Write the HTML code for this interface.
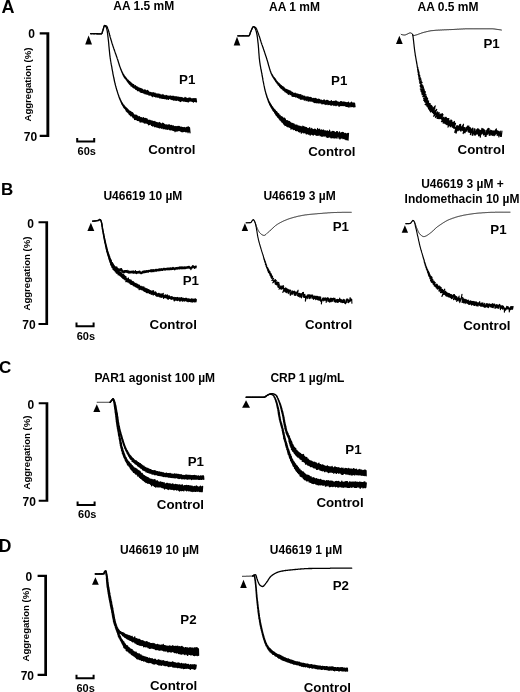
<!DOCTYPE html>
<html lang="en">
<head>
<meta charset="utf-8">
<title>Platelet aggregation traces</title>
<style>
html,body{margin:0;padding:0;background:#fff;}
body{width:520px;height:692px;overflow:hidden;}
svg{display:block;filter:blur(0.3px);}
svg text{font-family:"Liberation Sans",sans-serif;font-weight:bold;fill:#000;}
svg path{fill:none;stroke:#000;stroke-linejoin:round;stroke-linecap:round;}
svg path.f{fill:#000;stroke:none;}
svg path.sb{stroke-width:2;stroke-linejoin:miter;stroke-linecap:butt;}
</style>
</head>
<body>
<svg width="520" height="692" viewBox="0 0 520 692">
<rect x="0" y="0" width="520" height="692" fill="#fff" stroke="none"/>
<text x="1.4" y="12.7" font-size="18" text-anchor="start" >A</text>
<text x="34.9" y="37.6" font-size="12" text-anchor="end" >0</text>
<text x="37.2" y="141.2" font-size="12" text-anchor="end" >70</text>
<path d="M39.7,32.3 H49.3 V136.9 H39.7 V134.80 H46.40 V34.40 H39.7 Z" class="f"/>
<text transform="translate(31.2,84.5) rotate(-90)" font-size="9.6" text-anchor="middle">Aggregation (%)</text>
<path d="M77.2,138 V141.4 H94.2 V138" class="sb"/>
<text x="86.7" y="155.1" font-size="11" text-anchor="middle" >60s</text>
<text x="143.7" y="10.2" font-size="12" text-anchor="middle" >AA 1.5 mM</text>
<path d="M85.2,44.4 L92,44.4 L88.6,35.4 Z" class="f"/>
<path d="M90.6,33.7 91.1,33.7 91.6,33.8 92.1,33.7 92.6,33.7 93.1,33.6 93.6,33.7 94.1,33.7 94.6,33.7 95.1,33.7 95.6,33.7 96.2,33.7 96.8,33.8 97.3,33.7 97.9,33.8 98.5,33.8 99.0,33.9 99.6,33.8 100.0,33.9 100.5,33.8 100.9,33.9 101.2,33.9 101.5,33.9 101.7,33.6 101.9,33.3 102.1,32.7 102.3,32.2 102.5,31.5 102.7,31.0 102.9,30.3 103.0,29.9 103.2,29.3 103.4,28.8 103.6,28.1 103.7,27.6 103.9,26.9 104.0,26.4 104.2,25.9 104.4,25.7 104.6,25.5 104.9,25.6 105.2,25.8 105.5,26.3 105.9,26.7 106.2,27.3 106.4,27.7 106.6,28.3 106.7,28.6 106.8,29.2 106.9,29.6 107.0,30.1 107.1,30.5 107.2,31.1 107.3,31.5 107.4,32.1 107.4,32.6 107.5,33.2 107.6,33.6 107.6,34.2 107.7,34.6 107.8,35.2 107.8,35.6 107.9,36.2 107.9,36.7 108.0,37.2 108.1,37.7 108.1,38.2 108.2,38.7 108.2,39.2 108.3,39.6 108.4,40.2 108.4,40.7 108.5,41.2 108.5,41.6 108.6,42.2 108.6,42.6 108.7,43.2 108.7,43.6 108.8,44.2 108.8,44.6 108.8,45.2 108.9,45.6 108.9,46.2 109.0,46.6 109.0,47.2 109.1,47.6 109.1,48.2 109.2,48.6 109.2,49.2 109.3,49.6 109.3,50.2 109.4,50.6 109.4,51.2 109.5,51.6 109.5,52.2 109.6,52.6 109.6,53.2 109.7,53.7 109.7,54.2 109.8,54.7 109.8,55.2 109.9,55.6 110.0,56.2 110.0,56.6 110.1,57.2 110.2,57.6 110.2,58.2 110.3,58.6 110.4,59.2 110.5,59.6 110.5,60.2 110.6,60.6 110.7,61.2 110.8,61.6 110.9,62.2 111.0,62.6 111.0,63.2 111.1,63.6 111.2,64.2 111.3,64.6 111.4,65.1 111.5,65.6 111.6,66.1 111.7,66.5 111.8,67.1 111.9,67.5 111.9,68.1 112.0,68.5 112.1,69.1 112.2,69.5 112.3,70.1 112.4,70.5 112.5,71.1 112.6,71.5 112.7,72.1 112.8,72.5 112.8,73.1 112.9,73.5 113.0,74.1 113.1,74.5 113.2,75.1 113.3,75.4 113.4,76.1 113.5,76.4 113.6,77.1 113.7,77.4 113.8,78.0 113.9,78.4 114.0,79.0 114.1,79.4 114.2,80.0 114.3,80.3 114.4,81.0 114.5,81.3 114.6,82.0 114.7,82.3 114.9,82.9 115.0,83.2 115.1,84.0 115.2,84.3 115.3,84.9 115.5,85.2 115.6,85.9 115.7,86.2 115.9,86.9 116.0,87.1 116.1,87.9 116.3,88.1 116.4,88.8 116.5,89.0 116.7,89.9 116.8,90.0 117.0,90.8 117.1,91.0 117.3,91.7 117.4,91.9 117.6,92.7 117.7,92.8 117.9,93.7 118.0,93.8 118.2,94.7 118.4,94.7 118.5,95.7 118.7,95.5 118.9,96.7 119.0,96.5 119.2,97.6 119.4,97.5 119.6,98.7 119.8,98.2 120.0,99.6 120.2,99.0 120.4,100.5 120.6,100.0 120.8,101.4 121.0,100.8 121.2,102.5 121.4,101.7 121.7,103.6 121.9,102.5 122.1,104.4 122.4,103.2 122.7,105.4 122.9,104.2 123.2,106.2 123.5,105.0 123.8,107.4 124.1,105.3 124.4,108.2 124.7,106.5 125.1,108.7 125.4,107.1 125.7,109.8 126.0,107.6 126.3,111.0 126.7,108.3 127.0,111.7 127.3,108.9 127.7,112.3 128.1,109.5 128.4,113.0 128.8,110.5 129.2,114.3 129.5,111.0 129.9,114.8 130.3,111.3 130.7,115.8 131.0,111.9 131.4,115.7 131.8,112.5 132.2,116.3 132.6,112.7 133.0,117.6 133.4,113.9 133.8,117.9 134.2,114.8 134.6,119.5 135.0,115.5 135.5,119.5 135.9,114.9 136.3,119.4 136.8,115.7 137.2,120.4 137.7,116.1 138.1,120.5 138.6,116.9 139.1,120.6 139.5,116.7 140.0,121.9 140.5,117.5 141.0,122.0 141.5,117.6 142.0,121.8 142.4,118.1 142.9,122.0 143.4,117.7 143.9,122.6 144.3,118.3 144.8,123.2 145.3,118.4 145.8,122.9 146.2,118.7 146.7,123.1 147.2,119.0 147.7,123.6 148.2,120.4 148.6,124.8 149.1,120.1 149.6,124.5 150.1,120.4 150.5,124.2 151.0,120.9 151.5,125.4 152.0,120.9 152.5,126.0 153.0,121.5 153.4,125.6 153.9,121.5 154.4,126.6 154.9,121.4 155.4,126.5 155.9,122.5 156.3,126.9 156.8,122.3 157.3,127.1 157.8,122.9 158.3,127.4 158.8,122.8 159.3,128.0 159.7,122.5 160.2,127.3 160.7,123.5 161.2,128.3 161.7,123.8 162.2,127.8 162.7,123.1 163.2,128.8 163.7,123.6 164.1,128.3 164.6,124.6 165.1,129.0 165.6,124.9 166.1,129.0 166.6,124.8 167.1,129.3 167.6,125.2 168.1,129.0 168.6,124.9 169.1,129.3 169.6,124.8 170.1,130.0 170.6,125.6 171.0,129.7 171.5,125.4 172.0,129.9 172.5,125.8 173.0,130.4 173.5,125.9 174.0,130.5 174.5,126.6 175.0,131.6 175.5,126.5 176.0,130.9 176.5,126.6 177.0,131.1 177.5,126.5 178.0,130.7 178.5,126.4 179.0,130.5 179.5,126.5 180.0,130.8 180.5,127.1 181.0,131.3 181.5,127.2 182.0,131.8 182.5,127.5 183.0,131.7 183.5,127.7 184.0,131.4 184.5,127.5 185.0,131.3 185.5,127.9 186.0,132.0 186.5,127.3 187.0,131.5 187.5,127.1 188.0,132.6 188.5,126.8 189.0,131.6 189.5,127.7 190.0,132.8" stroke-width="1.25"/>
<path d="M90.6,33.7 91.1,33.7 91.6,33.7 92.1,33.7 92.6,33.7 93.1,33.7 93.6,33.8 94.1,33.7 94.6,33.8 95.1,33.7 95.7,33.7 96.2,33.7 96.8,33.8 97.4,33.7 97.9,33.8 98.5,33.8 99.0,33.9 99.6,33.8 100.1,33.9 100.5,33.8 100.9,33.9 101.2,33.9 101.5,33.9 101.7,33.6 102.0,33.3 102.2,32.7 102.3,32.2 102.5,31.5 102.7,31.0 102.9,30.3 103.0,29.9 103.2,29.3 103.4,28.8 103.5,28.1 103.7,27.5 103.8,26.9 104.0,26.4 104.2,25.9 104.4,25.7 104.6,25.5 105.0,25.6 105.5,25.6 106.1,25.8 106.5,26.0 106.8,26.3 107.0,26.6 107.3,27.2 107.5,27.6 107.7,28.3 107.8,28.7 108.0,29.2 108.2,29.6 108.3,30.1 108.5,30.6 108.6,31.1 108.8,31.5 108.9,32.1 109.0,32.5 109.1,33.1 109.3,33.5 109.4,34.0 109.5,34.4 109.6,35.0 109.8,35.4 109.9,36.0 110.0,36.4 110.2,37.0 110.3,37.4 110.5,37.9 110.6,38.3 110.7,38.9 110.9,39.3 111.0,39.9 111.2,40.3 111.3,40.8 111.5,41.2 111.6,41.8 111.7,42.2 111.9,42.7 112.0,43.2 112.2,43.7 112.3,44.1 112.5,44.7 112.6,45.1 112.8,45.6 113.0,46.0 113.1,46.6 113.3,47.0 113.4,47.5 113.6,47.9 113.8,48.5 113.9,48.9 114.1,49.4 114.3,49.8 114.4,50.4 114.6,50.8 114.8,51.3 114.9,51.7 115.1,52.3 115.3,52.7 115.4,53.3 115.6,53.6 115.8,54.2 115.9,54.6 116.1,55.2 116.3,55.5 116.4,56.1 116.6,56.5 116.8,57.1 116.9,57.4 117.1,58.0 117.2,58.4 117.4,59.0 117.6,59.3 117.7,59.9 117.9,60.2 118.0,60.9 118.2,61.2 118.3,61.9 118.5,62.2 118.6,62.9 118.8,63.1 118.9,63.8 119.1,64.0 119.2,64.8 119.4,65.0 119.5,65.8 119.7,66.0 119.8,66.7 120.0,66.8 120.2,67.7 120.4,67.8 120.5,68.7 120.7,68.7 120.9,69.7 121.1,69.5 121.3,70.6 121.5,70.5 121.7,71.6 121.9,71.4 122.1,72.7 122.3,72.3 122.5,73.4 122.7,73.1 122.9,74.7 123.2,74.0 123.4,75.5 123.7,74.7 123.9,76.7 124.2,75.7 124.5,77.3 124.8,76.3 125.1,78.3 125.4,77.0 125.7,78.9 126.0,77.9 126.3,79.7 126.6,78.5 126.9,80.7 127.2,79.6 127.5,81.5 127.9,80.1 128.2,82.3 128.5,80.5 128.9,83.4 129.2,81.3 129.5,84.1 129.9,81.9 130.2,84.6 130.6,82.5 131.0,85.8 131.3,83.0 131.7,86.1 132.1,83.9 132.5,86.9 132.9,84.4 133.3,87.4 133.7,84.7 134.1,88.2 134.6,86.0 135.0,88.2 135.4,85.7 135.8,89.4 136.3,86.5 136.7,89.6 137.1,86.8 137.6,90.6 138.0,87.4 138.5,90.6 138.9,88.1 139.4,91.0 139.8,88.1 140.3,92.0 140.8,88.6 141.3,92.4 141.7,88.9 142.2,92.4 142.7,89.4 143.1,92.8 143.6,90.3 144.1,93.2 144.6,89.9 145.0,93.8 145.5,90.1 146.0,93.7 146.5,90.9 146.9,94.3 147.4,90.4 147.9,94.1 148.4,91.2 148.8,95.0 149.3,92.1 149.8,95.1 150.3,92.3 150.8,95.2 151.2,92.6 151.7,95.8 152.2,92.8 152.7,96.6 153.2,92.7 153.7,95.8 154.1,93.1 154.6,96.4 155.1,93.1 155.6,96.8 156.1,93.9 156.6,96.9 157.1,94.0 157.6,97.2 158.1,94.0 158.5,97.2 159.0,94.2 159.5,97.9 160.0,94.4 160.5,97.8 161.0,95.1 161.5,98.2 162.0,95.0 162.5,98.4 163.0,94.5 163.5,98.3 164.0,95.4 164.5,98.6 165.0,95.8 165.5,98.7 166.0,95.5 166.5,99.1 167.0,95.5 167.5,99.0 168.0,96.3 168.5,99.3 169.0,96.0 169.5,98.5 170.0,96.1 170.5,99.0 171.0,96.0 171.5,99.5 172.0,96.7 172.5,99.5 172.9,96.2 173.4,100.1 173.9,96.3 174.4,100.0 174.9,96.9 175.4,100.2 175.9,96.6 176.4,100.3 176.9,96.8 177.4,100.0 177.9,97.1 178.4,100.5 178.9,97.1 179.4,100.9 179.9,97.6 180.4,101.5 180.9,97.3 181.4,101.0 181.9,97.6 182.4,100.6 182.9,98.0 183.4,101.2 183.9,98.3 184.4,101.2 185.0,97.4 185.5,101.3 186.0,97.8 186.5,101.5 187.0,98.5 187.5,101.6 188.0,98.5 188.5,101.9 189.0,98.0 189.5,101.1 190.0,97.9 190.5,101.0 191.0,98.6 191.5,101.2 192.0,98.8 192.5,101.5 193.0,98.6 193.5,102.1 194.0,98.6 194.5,101.4 195.0,98.7 195.5,101.6 196.0,98.6 196.5,101.9" stroke-width="1.25"/>
<text x="179.1" y="83.9" font-size="13.3" text-anchor="start" >P1</text>
<text x="148.2" y="154.3" font-size="13.3" text-anchor="start" >Control</text>
<text x="294.5" y="10.6" font-size="12" text-anchor="middle" >AA 1 mM</text>
<path d="M233.7,45.4 L240.3,45.4 L237.0,36.8 Z" class="f"/>
<path d="M237.8,35.8 238.3,35.8 238.8,35.8 239.3,35.7 239.8,35.8 240.3,35.8 240.8,35.8 241.3,35.8 241.8,35.8 242.3,35.7 242.8,35.8 243.3,35.7 243.9,35.8 244.4,35.8 245.0,35.9 245.6,35.8 246.1,35.9 246.7,35.8 247.2,35.9 247.6,35.9 248.1,35.9 248.4,35.9 248.7,35.9 249.0,35.7 249.3,35.5 249.5,35.0 249.7,34.6 249.9,34.0 250.1,33.5 250.3,32.8 250.5,32.3 250.7,31.6 250.9,31.2 251.1,30.7 251.4,30.2 251.6,29.6 251.9,29.1 252.1,28.4 252.4,28.0 252.6,27.4 252.9,27.1 253.1,26.7 253.4,26.7 253.7,26.6 254.0,26.9 254.3,27.1 254.6,27.6 254.9,28.0 255.2,28.7 255.5,29.1 255.7,29.7 255.9,30.1 256.0,30.7 256.1,31.0 256.3,31.6 256.4,32.0 256.5,32.5 256.6,32.9 256.7,33.5 256.8,33.9 256.9,34.5 257.0,34.9 257.1,35.5 257.2,35.9 257.2,36.5 257.3,36.9 257.4,37.5 257.5,38.0 257.5,38.5 257.6,39.0 257.6,39.6 257.7,40.0 257.8,40.6 257.8,41.0 257.9,41.6 257.9,42.0 258.0,42.6 258.1,43.0 258.1,43.6 258.2,44.0 258.2,44.6 258.3,45.0 258.3,45.6 258.4,46.0 258.4,46.6 258.4,47.0 258.5,47.6 258.5,48.0 258.6,48.6 258.6,49.0 258.6,49.6 258.7,50.0 258.7,50.6 258.7,51.0 258.8,51.6 258.8,52.0 258.8,52.6 258.9,53.0 258.9,53.6 259.0,54.0 259.0,54.6 259.0,55.0 259.1,55.6 259.1,56.0 259.2,56.6 259.2,57.0 259.2,57.6 259.3,58.0 259.3,58.6 259.4,59.0 259.5,59.6 259.5,60.0 259.6,60.6 259.6,61.0 259.7,61.6 259.8,62.0 259.8,62.6 259.9,63.0 260.0,63.6 260.1,64.0 260.1,64.6 260.2,65.0 260.3,65.6 260.4,66.0 260.5,66.6 260.6,67.0 260.7,67.6 260.7,67.9 260.8,68.6 260.9,68.9 261.0,69.5 261.1,69.9 261.2,70.5 261.3,70.9 261.4,71.5 261.5,71.9 261.6,72.6 261.7,72.9 261.8,73.5 261.9,73.9 262.0,74.5 262.0,74.8 262.1,75.5 262.2,75.8 262.3,76.5 262.4,76.8 262.5,77.5 262.6,77.8 262.7,78.5 262.8,78.8 262.8,79.5 262.9,79.8 263.0,80.4 263.1,80.7 263.2,81.5 263.3,81.7 263.4,82.5 263.5,82.7 263.6,83.5 263.7,83.7 263.8,84.4 263.9,84.7 264.0,85.4 264.1,85.7 264.2,86.4 264.3,86.6 264.4,87.4 264.5,87.6 264.6,88.5 264.7,88.6 264.8,89.3 264.9,89.6 265.0,90.4 265.2,90.5 265.3,91.4 265.4,91.4 265.6,92.4 265.7,92.4 265.8,93.4 266.0,93.3 266.1,94.5 266.3,94.2 266.4,95.5 266.6,95.1 266.7,96.6 266.9,96.0 267.0,97.5 267.2,97.0 267.4,98.4 267.5,98.1 267.7,99.5 267.9,98.6 268.1,100.5 268.3,99.7 268.4,101.6 268.6,100.5 268.8,102.5 269.0,101.4 269.2,103.3 269.4,102.2 269.7,104.6 269.9,102.9 270.1,105.3 270.4,103.7 270.6,106.1 270.9,104.5 271.1,107.2 271.4,105.2 271.7,108.1 271.9,106.4 272.2,108.8 272.5,106.8 272.8,110.2 273.1,107.8 273.4,111.0 273.7,108.5 274.0,111.4 274.3,109.5 274.6,112.8 274.9,109.8 275.2,113.5 275.5,110.7 275.8,114.7 276.1,111.5 276.4,115.4 276.7,111.7 277.1,116.1 277.4,112.8 277.7,117.1 278.1,113.5 278.4,117.7 278.7,113.8 279.1,118.6 279.4,115.1 279.8,119.8 280.1,115.3 280.5,120.1 280.8,116.9 281.2,121.0 281.6,116.7 281.9,122.0 282.3,117.1 282.7,122.5 283.1,118.1 283.5,123.7 283.9,118.2 284.2,124.4 284.6,118.2 285.0,125.5 285.4,119.2 285.9,125.3 286.3,120.7 286.7,126.1 287.1,120.7 287.5,126.6 287.9,120.8 288.4,126.6 288.8,121.7 289.2,127.2 289.6,121.5 290.1,127.4 290.5,122.5 291.0,129.2 291.4,123.2 291.9,128.3 292.3,123.3 292.8,129.0 293.2,123.7 293.7,129.7 294.2,124.2 294.6,129.4 295.1,125.2 295.6,130.5 296.1,125.0 296.5,130.6 297.0,125.2 297.5,130.5 298.0,126.0 298.4,131.5 298.9,125.9 299.4,132.0 299.9,126.5 300.4,131.6 300.9,126.4 301.3,133.2 301.8,127.2 302.3,132.2 302.8,126.2 303.3,132.8 303.8,126.6 304.3,132.7 304.8,127.2 305.3,132.9 305.8,127.4 306.3,134.0 306.7,127.7 307.2,133.4 307.7,128.6 308.2,134.1 308.7,128.5 309.2,134.2 309.7,127.7 310.2,135.2 310.7,129.1 311.2,134.1 311.7,128.3 312.2,134.4 312.7,129.4 313.2,135.2 313.6,129.6 314.1,134.3 314.6,129.1 315.1,134.3 315.6,129.3 316.1,135.3 316.6,130.4 317.1,135.1 317.6,128.5 318.1,135.4 318.6,129.6 319.1,134.7 319.6,129.1 320.1,135.7 320.6,130.4 321.1,135.8 321.6,129.8 322.1,136.4 322.6,130.4 323.1,135.7 323.6,130.0 324.1,136.3 324.6,130.9 325.1,135.3 325.6,130.8 326.1,136.6 326.6,131.2 327.1,137.3 327.6,130.8 328.1,137.4 328.6,131.7 329.1,136.6 329.6,130.2 330.1,137.1 330.6,132.1 331.1,137.9 331.6,131.8 332.1,137.6 332.6,131.3 333.1,137.7 333.6,131.5 334.1,138.0 334.5,131.8 335.0,137.9 335.5,132.6 336.0,137.6 336.5,131.7 337.0,138.1 337.5,131.7 338.0,136.7 338.5,133.0 339.0,138.1 339.5,131.9 340.0,139.0 340.5,133.2 341.0,138.1 341.5,132.7 342.0,137.9 342.5,132.3 343.0,138.6 343.5,132.6 344.0,138.4 344.5,133.5 345.0,139.1 345.5,133.4 346.0,139.7 346.5,133.9 347.0,139.5 347.5,133.5 348.0,140.2 348.5,133.3" stroke-width="1.25"/>
<path d="M237.8,35.8 238.3,35.8 238.8,35.8 239.3,35.8 239.8,35.8 240.3,35.8 240.8,35.8 241.3,35.8 241.8,35.8 242.3,35.8 242.8,35.8 243.3,35.7 243.9,35.9 244.4,35.8 245.0,35.9 245.6,35.8 246.1,35.9 246.7,35.8 247.2,35.9 247.6,35.8 248.1,35.9 248.4,35.9 248.8,35.9 249.0,35.7 249.3,35.5 249.5,35.0 249.7,34.6 249.9,34.0 250.1,33.4 250.3,32.8 250.5,32.3 250.7,31.6 250.9,31.2 251.2,30.6 251.4,30.2 251.6,29.6 251.8,29.1 252.1,28.4 252.3,27.9 252.5,27.4 252.8,27.1 253.1,26.7 253.4,26.7 253.7,26.6 254.2,26.8 254.7,27.0 255.2,27.4 255.6,27.6 256.0,28.0 256.2,28.3 256.5,28.8 256.7,29.1 256.9,29.7 257.1,30.1 257.3,30.7 257.5,31.1 257.6,31.7 257.8,32.1 258.0,32.6 258.2,33.0 258.3,33.6 258.5,33.9 258.7,34.5 258.8,34.9 259.0,35.5 259.1,35.9 259.3,36.4 259.5,36.8 259.6,37.4 259.8,37.8 259.9,38.3 260.1,38.7 260.2,39.3 260.4,39.7 260.5,40.3 260.7,40.6 260.8,41.2 261.0,41.6 261.1,42.2 261.3,42.6 261.4,43.1 261.6,43.5 261.8,44.1 261.9,44.5 262.1,45.0 262.3,45.4 262.4,46.0 262.6,46.4 262.8,46.9 262.9,47.3 263.1,47.9 263.2,48.3 263.4,48.8 263.6,49.2 263.7,49.8 263.9,50.2 264.1,50.7 264.2,51.1 264.4,51.7 264.5,52.1 264.7,52.6 264.9,53.0 265.0,53.6 265.2,54.0 265.3,54.6 265.5,54.9 265.6,55.5 265.8,55.9 266.0,56.5 266.1,56.8 266.3,57.4 266.4,57.8 266.6,58.4 266.7,58.8 266.9,59.4 267.0,59.7 267.2,60.4 267.3,60.6 267.5,61.3 267.6,61.6 267.8,62.3 267.9,62.6 268.0,63.3 268.2,63.5 268.3,64.3 268.4,64.5 268.6,65.3 268.7,65.4 268.8,66.3 269.0,66.4 269.1,67.3 269.3,67.4 269.4,68.2 269.5,68.4 269.7,69.2 269.8,69.3 270.0,70.1 270.1,70.3 270.3,71.2 270.5,71.1 270.7,72.1 270.8,72.0 271.0,73.1 271.2,73.0 271.4,74.0 271.6,73.9 271.8,75.0 272.1,74.6 272.3,75.9 272.6,75.4 272.8,76.8 273.1,76.3 273.4,77.7 273.6,77.0 273.9,78.6 274.2,77.6 274.5,79.4 274.8,78.4 275.1,80.3 275.4,79.2 275.7,81.3 276.0,80.0 276.3,82.1 276.6,81.0 276.9,83.0 277.2,81.7 277.5,83.7 277.9,82.5 278.2,84.9 278.5,83.1 278.9,85.3 279.2,83.5 279.6,86.3 279.9,84.4 280.3,87.4 280.6,85.1 281.0,88.2 281.3,85.6 281.7,88.7 282.1,86.3 282.5,89.1 282.8,86.9 283.2,90.2 283.6,87.1 284.0,90.5 284.5,88.1 284.9,91.6 285.3,89.0 285.7,92.0 286.2,89.4 286.6,92.6 287.0,89.7 287.5,93.2 287.9,90.2 288.3,94.3 288.8,90.3 289.2,93.6 289.7,90.8 290.1,94.6 290.6,91.2 291.0,94.5 291.5,92.0 291.9,95.9 292.4,92.4 292.8,96.4 293.3,93.2 293.8,96.4 294.2,93.3 294.7,96.4 295.2,93.1 295.6,97.0 296.1,93.9 296.6,96.8 297.0,93.9 297.5,97.5 298.0,94.1 298.5,98.0 298.9,94.7 299.4,98.2 299.9,94.7 300.4,99.2 300.9,94.7 301.3,99.2 301.8,95.8 302.3,99.1 302.8,95.5 303.3,99.2 303.8,96.4 304.3,100.2 304.7,96.1 305.2,99.7 305.7,97.1 306.2,100.7 306.7,96.9 307.2,100.2 307.7,96.9 308.2,101.1 308.6,97.2 309.1,100.9 309.6,97.5 310.1,101.0 310.6,97.3 311.1,101.2 311.6,97.9 312.1,101.2 312.6,98.6 313.1,101.6 313.6,98.4 314.1,102.3 314.5,98.5 315.0,102.7 315.5,98.4 316.0,102.3 316.5,98.9 317.0,103.0 317.5,99.4 318.0,102.7 318.5,99.2 319.0,103.1 319.5,99.4 320.0,102.6 320.5,100.1 321.0,103.1 321.5,100.2 322.0,103.8 322.5,100.6 323.0,103.6 323.5,100.1 324.0,103.7 324.5,100.0 325.0,104.1 325.5,100.9 326.0,104.5 326.5,100.4 327.0,104.0 327.5,100.4 328.0,104.6 328.4,100.8 328.9,104.4 329.4,101.3 329.9,104.5 330.4,101.3 330.9,105.1 331.4,100.6 331.9,105.0 332.4,101.7 332.9,104.6 333.4,101.4 333.9,105.5 334.5,101.4 335.0,105.2 335.5,101.0 336.0,105.6 336.5,101.1 337.0,105.0 337.5,101.8 338.0,105.2 338.5,102.1 339.0,106.3 339.5,102.3 340.0,105.5 340.5,101.7 341.0,105.6 341.5,101.7 342.0,105.4 342.5,102.1 343.0,105.7 343.5,102.0 344.0,105.7 344.5,102.2 345.0,105.7 345.5,102.3 346.0,106.4 346.5,102.6 347.0,106.4 347.5,102.7 348.0,106.7 348.5,102.2 349.0,107.2 349.5,103.2 350.0,106.2 350.5,102.8 351.0,106.8 351.5,102.2 352.0,106.3 352.5,103.0 353.0,106.6 353.5,103.0 354.0,107.0 354.5,103.1 355.0,106.7" stroke-width="1.25"/>
<text x="331.1" y="85.1" font-size="13.3" text-anchor="start" >P1</text>
<text x="308.2" y="156.3" font-size="13.3" text-anchor="start" >Control</text>
<text x="448" y="10.6" font-size="12" text-anchor="middle" >AA 0.5 mM</text>
<path d="M396,44.1 L402.7,44.1 L399.35,35.8 Z" class="f"/>
<path d="M401.2,34.3 401.5,34.5 401.9,34.6 402.2,34.7 402.6,34.8 402.9,34.9 403.3,34.9 403.6,35.0 404.0,35.0 404.3,35.0 404.6,35.0 405.0,34.9 405.3,34.9 405.6,34.8 406.0,34.6 406.3,34.5 406.7,34.3 407.0,34.2 407.3,34.1 407.6,33.9 408.0,33.8 408.3,33.6 408.6,33.4 409.0,33.3 409.3,33.1 409.6,33.0 409.9,32.9 410.3,32.9 410.6,32.9 410.9,33.1 411.3,33.2 411.6,33.4 411.9,33.5 412.2,33.8 412.4,34.1 412.6,34.4 412.7,34.8 412.9,35.2 413.1,35.5 413.3,35.6 413.6,35.6 413.9,35.5 414.2,35.5 414.6,35.4 415.0,35.3 415.3,35.2 415.7,35.1 416.1,35.0 416.4,34.9 416.7,34.8 417.1,34.7 417.4,34.6 417.7,34.5 418.1,34.3 418.4,34.2 418.7,34.1 419.1,34.0 419.4,33.9 419.7,33.7 420.1,33.6 420.4,33.5 420.7,33.4 421.1,33.2 421.4,33.1 421.7,33.0 422.0,32.9 422.4,32.8 422.7,32.7 423.1,32.6 423.4,32.5 423.7,32.4 424.1,32.3 424.4,32.2 424.8,32.1 425.1,32.0 425.4,32.0 425.8,31.9 426.1,31.8 426.5,31.7 426.8,31.6 427.2,31.6 427.5,31.5 427.8,31.4 428.2,31.3 428.5,31.2 428.9,31.2 429.2,31.1 429.6,31.0 429.9,31.0 430.3,30.9 430.6,30.8 431.0,30.8 431.3,30.7 431.7,30.7 432.0,30.6 432.4,30.6 432.7,30.6 433.1,30.5 433.4,30.5 433.8,30.5 434.1,30.4 434.4,30.4 434.8,30.4 435.1,30.3 435.5,30.3 435.8,30.3 436.2,30.3 436.5,30.2 436.9,30.2 437.2,30.2 437.6,30.2 437.9,30.2 438.3,30.1 438.7,30.1 439.0,30.1 439.4,30.1 439.7,30.1 440.1,30.0 440.4,30.0 440.8,30.0 441.1,30.0 441.5,30.0 441.8,30.0 442.2,29.9 442.5,29.9 442.9,29.9 443.2,29.9 443.6,29.9 443.9,29.9 444.3,29.8 444.6,29.8 445.0,29.8 445.3,29.8 445.7,29.8 446.0,29.8 446.4,29.8 446.8,29.7 447.1,29.7 447.5,29.7 447.8,29.7 448.2,29.7 448.5,29.7 448.9,29.7 449.2,29.6 449.6,29.6 449.9,29.6 450.3,29.6 450.6,29.6 451.0,29.6 451.3,29.6 451.7,29.5 452.0,29.5 452.4,29.5 452.7,29.5 453.1,29.5 453.4,29.5 453.8,29.4 454.2,29.4 454.5,29.4 454.9,29.4 455.2,29.4 455.6,29.3 455.9,29.3 456.3,29.3 456.6,29.3 457.0,29.3 457.3,29.2 457.7,29.2 458.0,29.2 458.4,29.2 458.7,29.2 459.1,29.1 459.4,29.1 459.8,29.1 460.1,29.1 460.5,29.1 460.8,29.0 461.2,29.0 461.5,29.0 461.9,29.0 462.2,29.0 462.6,29.0 462.9,28.9 463.3,28.9 463.6,28.9 464.0,28.9 464.4,28.9 464.7,28.9 465.1,28.8 465.4,28.8 465.8,28.8 466.1,28.8 466.5,28.8 466.8,28.8 467.2,28.8 467.5,28.8 467.9,28.8 468.2,28.8 468.6,28.8 468.9,28.8 469.3,28.8 469.6,28.8 470.0,28.8 470.3,28.8 470.7,28.8 471.0,28.8 471.4,28.8 471.7,28.8 472.1,28.8 472.4,28.8 472.8,28.8 473.2,28.8 473.5,28.8 473.9,28.8 474.2,28.8 474.6,28.8 474.9,28.8 475.3,28.8 475.6,28.8 476.0,28.8 476.3,28.8 476.7,28.8 477.0,28.8 477.4,28.8 477.7,28.8 478.1,28.8 478.4,28.8 478.8,28.8 479.1,28.8 479.5,28.8 479.8,28.8 480.2,28.8 480.6,28.8 480.9,28.8 481.3,28.8 481.6,28.8 482.0,28.8 482.3,28.8 482.7,28.8 483.0,28.8 483.4,28.8 483.7,28.8 484.1,28.8 484.4,28.8 484.8,28.8 485.1,28.8 485.5,28.8 485.8,28.8 486.2,28.8 486.5,28.8 486.9,28.8 487.2,28.8 487.6,28.8 487.9,28.8 488.3,28.8 488.6,28.8 489.0,28.8 489.3,28.8 489.7,28.8 490.1,28.8 490.4,28.8 490.8,28.8 491.1,28.8 491.5,28.8 491.8,28.8 492.2,28.8 492.5,28.8 492.9,28.9 493.2,28.9 493.6,28.9 493.9,29.0 494.3,29.0 494.6,29.0 495.0,29.1 495.3,29.1 495.7,29.2 496.0,29.2 496.4,29.3 496.7,29.3 497.1,29.4 497.4,29.4 497.8,29.5 498.1,29.5 498.5,29.6 498.8,29.6 499.2,29.7 499.5,29.7 499.9,29.8 500.2,29.8 500.6,29.9 500.9,29.9 501.3,30.0" stroke-width="1.0"/>
<path d="M412.6,34.3 412.7,34.6 412.7,35.0 412.8,35.4 412.8,35.8 413.0,36.2 413.0,36.6 413.1,37.0 413.1,37.4 413.2,37.7 413.2,38.2 413.3,38.6 413.3,39.0 413.4,39.4 413.4,39.8 413.5,40.2 413.5,40.6 413.6,41.0 413.6,41.4 413.7,41.8 413.7,42.2 413.8,42.6 413.7,43.0 413.9,43.4 413.8,43.8 414.0,44.2 413.9,44.6 414.1,45.0 414.0,45.4 414.1,45.8 414.1,46.2 414.2,46.6 414.2,47.0 414.3,47.3 414.3,47.7 414.4,48.2 414.4,48.6 414.5,49.0 414.5,49.4 414.6,49.8 414.6,50.2 414.7,50.6 414.7,51.0 414.8,51.3 414.8,51.8 414.9,52.1 414.9,52.5 415.1,52.9 415.0,53.3 415.2,53.7 415.1,54.1 415.3,54.5 415.2,55.0 415.4,55.4 415.4,55.7 415.6,56.1 415.5,56.5 415.7,56.9 415.7,57.3 415.8,57.6 415.8,58.1 416.0,58.5 415.9,58.9 416.1,59.3 416.1,59.7 416.2,60.1 416.2,60.5 416.4,60.9 416.3,61.3 416.6,61.6 416.5,62.1 416.7,62.4 416.6,62.9 416.8,63.2 416.7,63.7 417.0,64.0 416.9,64.5 417.1,64.8 417.0,65.2 417.3,65.6 417.1,66.1 417.4,66.5 417.3,66.9 417.7,67.2 417.3,67.6 417.9,67.9 417.6,68.4 418.0,68.8 417.5,69.3 418.3,69.5 417.7,70.1 418.4,70.4 417.9,71.0 418.7,71.2 417.9,71.6 418.8,71.8 418.0,72.3 419.1,72.4 418.3,73.2 419.1,73.6 418.2,74.3 419.3,74.6 418.6,74.9 419.6,75.1 418.5,75.9 419.9,75.8 418.9,76.3 419.8,76.4 418.7,77.2 420.2,77.4 419.0,78.3 420.2,78.3 419.0,78.8 420.9,78.8 419.3,79.6 420.8,79.5 419.2,79.7 421.0,79.3 419.6,80.5 421.4,80.8 419.4,81.8 421.5,82.0 419.9,82.7 421.7,82.7 419.7,83.1 422.2,82.4 420.4,83.8 422.1,84.3 420.2,85.5 422.2,86.0 420.2,86.4 422.3,85.7 420.3,86.3 423.3,86.2 420.8,87.4 423.3,87.6 420.3,89.0 423.2,88.4 420.8,89.2 423.9,88.8 421.5,88.8 423.5,87.5 420.9,89.8 424.4,90.3 421.0,90.8 424.2,89.2 421.2,91.6 425.3,91.6 421.6,93.1 425.4,92.1 422.3,93.6 424.9,93.1 422.1,94.6 425.4,94.0 423.1,95.1 426.0,94.6 422.8,96.6 426.4,96.2 423.5,97.0 426.4,97.0 423.7,100.4 427.0,98.2 423.6,98.6 427.0,97.7 424.1,99.3 427.6,98.3 423.8,100.4 427.6,99.2 424.4,101.0 427.2,100.2 424.7,101.8 427.7,100.6 425.0,102.1 428.7,101.0 426.0,103.0 428.7,102.1 425.1,104.4 428.6,103.1 425.9,105.0 429.2,103.6 426.6,105.1 430.2,103.7 426.9,106.2 430.2,104.7 427.7,106.7 430.9,105.2 428.1,107.5 431.7,105.7 428.4,108.4 432.1,106.7 428.8,109.2 431.7,107.5 429.3,109.4 432.6,107.0 429.5,110.3 433.1,108.6 430.3,111.5 433.3,109.4 430.6,112.0 434.4,109.3 431.3,111.0 435.3,106.0 431.6,110.5 435.1,107.8 432.4,112.5 436.0,110.1 433.1,112.8 435.8,111.2 433.5,113.7 436.7,109.4 433.7,116.3 437.6,111.9 434.9,114.6 437.8,112.2 435.4,117.1 438.7,112.9 435.8,117.5 439.3,112.8 437.1,118.5 439.9,114.7 437.6,118.3 440.4,114.2 438.4,118.4 441.6,114.4 438.9,118.7 442.2,113.6 439.9,118.6 442.1,116.6 440.6,118.4 443.0,114.4 441.4,119.2 443.9,117.2 441.4,121.7 444.8,118.2 442.5,121.6 445.6,117.3 443.0,121.7 446.3,117.5 443.1,123.1 446.7,118.5 444.1,123.1 447.5,118.7 445.2,122.9 448.4,118.7 445.3,123.8 448.9,118.7 446.5,124.4 449.3,120.7 447.3,125.0 450.0,122.2 448.0,127.1 451.0,120.0 448.6,124.7 451.8,120.4 449.6,125.4 451.9,122.1 450.1,126.6 452.7,122.2 450.7,126.6 453.1,122.5 451.4,126.0 454.4,121.5 452.3,127.2 454.9,123.0 453.2,127.4 455.5,123.5 453.9,128.4 456.1,126.9 454.8,132.5 457.1,125.5 455.4,128.2 457.4,126.0 456.0,133.2 458.4,126.2 456.9,129.9 458.9,126.3 458.1,129.1 459.7,124.7 458.2,130.6 460.6,124.4 459.5,129.6 460.9,126.0 460.2,130.7 461.9,126.8 461.0,131.2 462.6,125.6 461.8,129.9 463.5,124.2 462.6,130.4 464.0,127.5 463.2,133.7 464.8,127.7 464.2,132.4 465.8,128.9 465.0,132.9 466.3,127.5 465.9,131.2 467.4,126.1 466.7,131.1 468.0,126.2 467.4,129.7 468.9,126.0 468.2,131.8 469.6,127.5 469.0,132.1 470.4,127.8 469.7,132.4 471.1,129.0 470.4,134.6 472.0,128.8 471.3,132.6 472.8,128.0 472.1,135.0 473.6,132.4 472.8,135.4 474.3,128.9 473.6,133.7 475.0,129.0 474.5,135.0 476.0,131.0 475.3,135.2 476.5,129.9 476.2,133.9 477.5,128.9 477.0,134.2 478.1,128.9 477.9,133.9 478.9,129.4 478.6,135.9 479.6,130.4 479.4,135.6 480.4,130.4 480.3,137.2 481.2,130.5 481.1,134.2 481.9,128.4 481.9,134.0 482.7,128.8 482.8,133.2 483.5,129.1 483.6,134.9 484.3,129.8 484.4,134.3 485.1,130.6 485.2,136.4 485.9,133.1 486.0,136.5 486.7,130.4 486.8,134.6 487.5,129.2 487.6,134.1 488.3,128.4 488.4,133.2 489.1,128.6 489.2,135.2 489.9,131.3 490.0,135.4 490.7,130.2 490.9,134.1 491.5,130.5 491.7,134.9 492.3,130.8 492.4,135.3 493.1,131.1 493.3,135.1 493.9,130.9 494.1,135.6 494.7,131.1 494.8,135.1 495.5,129.9 495.6,134.1 496.3,128.8 496.5,133.4 497.1,130.9 497.2,135.4 497.9,130.9 498.0,135.2 498.7,131.6 498.9,136.9 499.5,132.0 499.7,135.1 500.3,131.0 500.5,136.3 501.1,134.1 501.3,136.4 501.9,131.1" stroke-width="1.2"/>
<text x="483.5" y="47.5" font-size="13.3" text-anchor="start" >P1</text>
<text x="457.6" y="154.3" font-size="13.3" text-anchor="start" >Control</text>
<text x="1.0" y="194.6" font-size="17" text-anchor="start" >B</text>
<text x="34" y="227.6" font-size="12" text-anchor="end" >0</text>
<text x="35.6" y="329.4" font-size="12" text-anchor="end" >70</text>
<path d="M38.5,221.2 H48.1 V325 H38.5 V322.90 H45.40 V223.30 H38.5 Z" class="f"/>
<text transform="translate(30,273.5) rotate(-90)" font-size="9.6" text-anchor="middle">Aggregation (%)</text>
<path d="M76.5,322.6 V326.2 H93.6 V322.6" class="sb"/>
<text x="85.9" y="339.8" font-size="11" text-anchor="middle" >60s</text>
<text x="142.9" y="200.2" font-size="12" text-anchor="middle" >U46619 10 µM</text>
<path d="M87.4,231 L94.3,231 L90.85,222.8 Z" class="f"/>
<path d="M92.7,221.2 93.0,221.1 93.4,221.2 93.7,221.1 94.1,221.1 94.4,221.0 94.8,221.0 95.1,220.9 95.5,221.0 95.8,220.8 96.2,220.8 96.5,220.7 96.9,220.7 97.3,220.6 97.6,220.6 98.0,220.5 98.3,220.5 98.6,220.3 98.9,220.2 99.1,219.8 99.5,219.6 99.7,219.4 100.0,219.5 100.3,219.6 100.5,220.0 100.8,220.3 100.8,220.6 101.0,220.9 101.1,221.2 101.3,221.5 101.3,221.8 101.5,222.1 101.4,222.5 101.6,222.7 101.6,223.1 101.8,223.4 101.7,223.8 101.9,224.1 101.8,224.5 102.0,224.9 101.9,225.2 102.1,225.6 102.0,226.0 102.3,226.3 102.1,226.7 102.3,227.0 102.3,227.4 102.4,227.8 102.3,228.2 102.6,228.5 102.4,228.9 102.6,229.3 102.5,229.6 102.9,229.9 102.7,230.3 102.9,230.6 102.8,231.0 103.1,231.3 103.0,231.7 103.2,232.0 103.1,232.4 103.4,232.6 103.1,233.0 103.5,233.3 103.3,233.8 103.6,234.1 103.4,234.5 103.8,234.8 103.5,235.3 103.9,235.8 103.7,236.0 104.0,236.1 103.8,236.5 104.2,236.8 103.9,237.2 104.3,237.5 104.1,237.9 104.4,238.2 104.2,238.6 104.6,238.9 104.3,239.3 104.7,239.6 104.3,240.0 104.8,240.3 104.6,240.7 105.0,241.0 104.7,241.4 105.2,241.7 104.8,242.1 105.2,242.4 104.9,242.8 105.4,243.0 105.1,243.3 105.6,243.7 105.3,244.1 105.7,244.4 105.5,244.8 105.9,245.1 105.5,245.5 106.0,245.8 105.7,246.2 106.3,246.4 105.8,246.9 106.5,247.1 106.1,247.6 106.5,247.8 106.2,248.3 106.8,248.5 106.3,249.0 107.0,249.2 106.5,249.5 107.2,249.6 106.7,250.2 107.4,250.7 106.8,251.4 107.5,251.4 107.1,251.7 107.7,251.9 107.3,252.6 108.0,253.1 107.4,253.3 108.2,253.2 107.7,253.7 108.3,253.9 107.8,254.4 108.7,254.7 108.0,255.6 108.7,255.5 108.2,255.8 109.1,255.9 108.5,256.3 109.3,256.3 108.8,256.9 109.6,257.0 108.9,257.7 109.8,257.8 109.2,258.4 110.1,258.5 109.4,259.1 110.3,259.1 109.6,259.8 110.8,259.7 109.8,260.5 110.8,260.5 110.1,261.1 111.2,260.9 110.1,261.9 111.4,261.8 110.6,262.6 111.8,262.4 110.8,263.3 112.4,262.9 111.2,263.9 112.6,263.3 111.6,264.1 113.0,263.9 111.9,265.2 113.4,264.5 112.1,265.9 113.7,265.1 112.5,266.5 114.1,265.5 113.2,266.8 114.5,266.1 113.4,267.7 115.0,266.6 114.2,268.0 115.5,267.0 114.8,269.2 116.1,269.0 115.3,269.5 116.8,267.0 116.1,269.0 117.3,268.0 116.8,269.7 117.8,268.5 117.4,270.1 118.1,269.1 118.1,270.2 118.9,269.0 118.7,270.5 119.5,269.2 119.3,270.9 120.2,269.2 120.0,271.3 120.9,268.7 120.7,269.7 121.5,268.8 121.5,271.2 122.3,270.0 122.3,272.1 122.9,270.5 122.9,272.5 123.5,271.8 123.6,272.6 124.3,270.7 124.4,272.7 125.0,270.7 125.1,272.1 125.6,270.7 125.8,272.1 126.3,270.7 126.5,272.2 127.1,270.4 127.1,272.4 127.7,271.1 127.8,272.6 128.4,270.9 128.5,272.9 129.1,271.9 129.2,273.1 129.8,271.2 130.0,272.8 130.5,271.9 130.7,272.8 131.2,271.1 131.4,272.6 131.9,271.8 132.1,273.0 132.6,271.2 132.8,272.0 133.3,271.0 133.5,273.2 134.0,271.5 134.2,273.1 134.7,271.6 134.9,272.9 135.4,270.7 135.6,273.2 136.1,271.7 136.4,273.5 136.8,271.6 137.1,273.1 137.4,271.7 137.8,273.0 138.1,271.7 138.5,272.9 138.8,271.5 139.2,273.2 139.5,271.2 139.9,272.9 140.1,271.4 140.7,273.7 140.8,272.4 141.4,273.6 141.5,272.5 142.1,273.4 142.2,271.3 142.8,272.6 142.9,271.4 143.5,272.8 143.6,271.1 144.2,272.7 144.3,270.8 144.9,272.7 145.0,271.1 145.6,272.4 145.7,271.0 146.3,272.3 146.4,270.6 146.9,271.9 147.1,270.8 147.7,272.2 147.8,270.6 148.4,272.1 148.5,270.5 149.0,271.7 149.2,270.5 149.7,271.4 149.9,270.3 150.4,271.6 150.6,270.0 151.2,271.7 151.3,270.0 151.9,271.8 152.0,269.7 152.6,271.5 152.7,270.0 153.3,271.5 153.4,269.7 154.0,271.6 154.1,269.8 154.6,271.0 154.8,269.8 155.3,271.1 155.5,269.5 156.1,271.2 156.2,269.3 156.8,271.2 156.9,269.5 157.4,270.7 157.6,269.4 158.1,270.6 158.3,269.3 158.8,270.8 159.0,268.9 159.5,270.7 159.7,269.0 160.2,270.7 160.4,269.1 160.9,270.0 161.1,268.6 161.6,270.3 161.8,268.8 162.3,270.4 162.5,269.1 163.0,270.2 163.2,268.5 163.7,269.7 163.9,268.5 164.4,270.0 164.6,268.3 165.1,269.8 165.3,268.7 165.8,270.0 166.0,268.4 166.5,269.7 166.7,268.5 167.2,269.6 167.4,268.2 167.9,269.8 168.1,268.1 168.6,269.6 168.8,268.1 169.3,269.5 169.5,268.1 170.0,269.8 170.2,267.9 170.7,269.3 170.9,267.9 171.4,269.7 171.6,268.2 172.1,269.2 172.3,267.9 172.8,269.4 173.0,267.5 173.5,269.2 173.7,267.9 174.2,269.5 174.4,268.6 174.9,269.7 175.1,267.6 175.6,269.2 175.9,267.8 176.3,269.2 176.5,267.6 177.0,268.9 177.2,267.4 177.7,269.1 178.0,267.8 178.4,268.7 178.6,267.4 179.1,268.8 179.3,267.2 179.8,268.8 180.0,266.9 180.5,268.5 180.7,267.1 181.2,268.7 181.4,267.0 181.9,268.8 182.2,267.1 182.6,268.7 182.9,267.0 183.3,268.5 183.6,267.3 184.0,268.7 184.2,266.8 184.7,268.7 185.0,266.9 185.4,268.5 185.7,267.2 186.1,268.0 186.4,266.8 186.8,268.3 187.1,266.9 187.5,268.2 187.8,266.7 188.2,267.8 188.5,266.4 188.9,268.1 189.2,266.4 189.6,268.1 189.9,266.8 190.3,268.7 190.6,267.6 191.0,269.5 191.3,267.4 191.7,268.2 192.0,266.4 192.4,267.8 192.7,265.7 193.1,266.6 193.4,265.9 193.8,267.7 194.1,266.4 194.5,268.3 194.8,266.7 195.2,267.7 195.5,266.2 195.9,267.8 196.2,266.2" stroke-width="1.3"/>
<path d="M92.7,221.2 93.0,221.1 93.4,221.1 93.7,221.0 94.1,221.1 94.4,221.0 94.8,221.0 95.1,220.9 95.5,220.9 95.8,220.8 96.2,220.8 96.5,220.7 96.9,220.7 97.3,220.6 97.6,220.6 98.0,220.5 98.3,220.5 98.6,220.3 98.9,220.2 99.1,219.8 99.5,219.6 99.7,219.4 100.0,219.5 100.3,219.6 100.5,220.0 100.8,220.3 100.8,220.6 101.0,220.8 101.1,221.2 101.3,221.4 101.3,221.8 101.5,222.1 101.4,222.5 101.6,222.8 101.6,223.1 101.8,223.4 101.7,223.8 101.9,224.1 101.8,224.5 102.1,224.8 101.9,225.2 102.2,225.5 102.1,225.9 102.3,226.3 102.2,226.7 102.4,227.0 102.3,227.4 102.5,227.7 102.4,228.1 102.6,228.5 102.5,228.9 102.7,229.2 102.6,229.6 102.9,229.9 102.7,230.3 103.0,230.6 102.8,231.0 103.1,231.2 103.0,231.5 103.3,231.9 103.1,232.4 103.4,232.7 103.2,233.0 103.6,233.3 103.4,233.7 103.7,234.0 103.5,234.4 103.8,234.7 103.6,235.1 104.0,235.4 103.8,235.8 104.1,236.1 103.8,236.5 104.3,236.8 104.0,237.2 104.4,237.5 104.2,237.9 104.5,238.2 104.3,238.6 104.7,238.9 104.4,239.3 104.8,239.6 104.6,240.0 104.9,240.2 104.7,240.7 105.1,240.9 104.8,241.3 105.3,241.6 104.9,242.0 105.5,242.3 105.1,242.8 105.6,243.1 105.3,243.4 105.7,243.7 105.5,244.1 105.9,244.3 105.6,244.8 106.1,245.0 105.7,245.5 106.2,245.7 105.9,246.1 106.4,246.4 106.1,246.8 106.6,246.9 106.2,247.2 106.8,247.7 106.3,248.4 106.8,248.5 106.5,248.9 107.1,249.1 106.6,249.6 107.2,249.8 106.8,250.3 107.5,250.5 107.0,251.1 107.7,251.6 107.1,252.0 107.9,251.9 107.4,252.3 108.1,252.5 107.5,253.0 108.3,253.1 107.7,253.7 108.6,253.8 107.8,254.4 108.7,254.5 108.2,255.0 109.0,255.1 108.2,255.7 109.1,255.8 108.5,256.4 109.6,256.4 108.7,257.1 109.4,257.2 108.8,257.8 109.9,257.8 109.0,258.5 110.0,258.5 109.1,259.2 110.4,259.1 109.5,259.8 110.7,259.7 109.5,260.5 110.9,260.4 109.7,261.0 111.3,260.6 110.1,261.6 111.4,261.7 110.3,262.6 111.8,262.3 110.7,263.1 112.2,262.9 110.6,264.0 112.2,263.7 110.8,264.7 112.9,264.1 111.2,265.3 113.0,264.8 111.7,265.9 113.5,265.3 111.9,267.0 113.9,266.8 112.3,267.6 114.1,266.5 112.5,267.9 114.5,266.9 113.2,268.3 115.0,267.4 113.1,269.3 115.4,267.9 113.7,269.8 115.7,268.5 114.3,270.3 116.3,269.0 115.0,270.6 116.8,269.4 115.2,271.6 117.3,270.1 115.8,272.1 118.2,270.0 116.5,272.2 118.2,271.0 116.5,273.2 119.0,271.1 117.5,273.2 119.0,272.1 117.9,273.8 119.6,272.5 118.1,274.8 120.5,272.4 118.7,274.7 121.1,272.7 119.6,275.2 121.8,273.1 120.1,275.7 121.9,274.1 120.6,276.2 122.3,274.6 121.4,276.2 123.3,274.3 121.6,277.2 123.9,274.9 122.6,277.1 124.2,275.7 122.7,278.2 124.8,276.0 123.4,278.4 125.3,276.5 123.9,278.9 125.9,276.8 124.5,279.3 126.1,277.7 125.0,279.8 126.8,278.8 125.8,281.6 127.5,279.0 126.1,280.7 128.4,278.1 126.7,281.1 128.5,279.3 127.1,281.8 128.9,279.8 127.9,281.9 129.9,279.6 128.7,281.9 130.3,280.4 129.0,282.8 131.1,280.3 129.8,283.0 131.4,281.1 130.2,283.6 131.9,281.7 130.7,284.2 132.9,281.5 131.5,284.3 133.5,281.9 132.2,284.5 133.9,282.5 132.9,284.6 134.4,282.9 133.3,285.5 134.9,283.6 134.0,285.9 135.8,283.4 134.6,286.0 136.2,283.8 135.2,286.3 136.8,284.3 135.8,286.8 137.5,284.4 136.4,287.0 137.9,284.8 137.0,287.5 138.6,285.2 137.7,287.8 139.4,285.2 138.4,288.0 140.0,286.3 139.1,289.7 140.7,286.5 139.7,288.6 141.2,286.4 140.2,289.1 141.6,287.0 140.9,289.3 142.5,286.9 141.5,289.7 143.2,287.0 142.2,289.9 143.9,287.1 143.1,289.8 144.3,288.1 143.5,290.6 145.0,288.1 144.0,291.0 145.5,288.7 144.7,291.3 146.2,288.8 145.3,291.7 146.9,288.9 146.0,291.8 147.5,289.3 146.5,292.5 148.1,289.6 147.3,292.7 148.9,289.8 148.0,292.6 149.4,290.2 148.7,292.7 150.0,290.7 149.4,293.4 150.7,290.8 149.9,293.5 151.2,291.2 150.9,293.2 152.1,291.2 151.2,294.4 152.6,291.0 151.8,293.7 153.5,290.8 152.7,294.4 153.9,292.0 153.2,295.0 154.4,292.5 154.1,294.3 155.3,291.9 154.7,294.4 155.9,292.2 155.5,295.0 156.4,293.2 156.1,295.7 157.1,294.1 156.9,296.3 157.9,293.6 157.3,296.3 158.5,293.4 158.2,295.8 159.2,293.5 158.8,296.3 159.7,294.2 159.4,296.8 160.5,294.2 160.2,296.6 161.2,294.0 160.8,297.2 161.9,294.1 161.5,297.3 162.6,294.5 162.2,296.6 163.2,293.4 162.9,297.1 163.8,295.5 163.6,298.4 164.5,295.9 164.4,297.2 165.2,294.9 165.0,297.5 165.9,295.3 165.8,297.7 166.6,295.3 166.4,297.8 167.3,294.9 167.0,298.2 168.0,295.5 167.7,298.9 168.6,296.3 168.3,299.2 169.4,295.9 169.2,298.4 170.0,296.5 169.9,298.4 170.6,297.0 170.6,298.8 171.4,296.7 171.2,299.2 172.0,296.8 171.9,299.3 172.7,297.2 172.7,298.9 173.3,297.5 173.4,299.0 174.1,297.4 174.1,300.7 174.9,297.8 174.6,300.8 175.5,297.7 175.5,300.0 176.2,297.9 176.1,299.9 176.9,297.7 176.8,300.3 177.6,297.5 177.5,300.5 178.2,297.8 178.2,300.2 178.9,298.2 179.0,300.2 179.6,297.9 179.7,301.1 180.3,299.2 180.4,300.9 181.0,297.6 181.0,299.1 181.6,297.9 181.8,300.5 182.4,298.3 182.4,301.2 183.1,298.2 183.2,300.8 183.7,298.7 183.9,300.6 184.5,298.6 184.5,301.1 185.2,298.5 185.3,300.6 185.9,298.3 186.0,300.7 186.6,298.3 186.7,301.1 187.2,298.9 187.3,301.5 187.9,299.1 188.1,300.9 188.6,298.8 188.7,301.7 189.3,299.2 189.5,301.4 190.0,299.4 190.2,301.5 190.7,299.4 190.9,301.7 191.4,298.9 191.6,301.8 192.1,299.1 192.3,302.0 192.8,299.2 193.0,301.6 193.5,299.4 193.7,301.6 194.2,299.1 194.4,301.8 194.9,299.2 195.1,301.6 195.6,299.0 195.9,301.8 196.3,299.7" stroke-width="1.3"/>
<text x="182.7" y="285.1" font-size="13.3" text-anchor="start" >P1</text>
<text x="149.6" y="328.7" font-size="13.3" text-anchor="start" >Control</text>
<text x="299.6" y="200.2" font-size="12" text-anchor="middle" >U46619 3 µM</text>
<path d="M241.7,231 L248.1,231 L244.89999999999998,223.3 Z" class="f"/>
<path d="M246.2,222.8 246.6,222.8 246.9,222.8 247.3,222.8 247.6,222.7 248.0,222.7 248.3,222.7 248.7,222.7 249.0,222.7 249.4,222.7 249.8,222.7 250.1,222.6 250.5,222.6 250.7,222.6 251.0,222.5 251.2,222.2 251.4,221.9 251.6,221.6 251.8,221.2 252.0,220.9 252.3,220.6 252.5,220.3 252.8,220.0 253.1,219.8 253.3,219.7 253.6,219.8 253.8,220.0 254.1,220.3 254.3,220.7 254.5,221.0 254.7,221.3 254.8,221.6 255.0,221.9 255.1,222.2 255.2,222.6 255.3,222.9 255.4,223.2 255.6,223.6 255.7,223.9 255.8,224.2 255.9,224.6 256.0,224.9 256.1,225.3 256.2,225.6 256.3,226.0 256.4,226.3 256.5,226.6 256.7,226.9 256.8,227.3 257.0,227.6 257.1,227.9 257.2,228.3 257.4,228.6 257.5,228.9 257.7,229.3 257.8,229.6 258.0,229.9 258.2,230.3 258.3,230.6 258.5,230.9 258.7,231.2 258.9,231.5 259.0,231.8 259.2,232.1 259.4,232.3 259.6,232.6 259.8,232.8 260.1,233.1 260.3,233.3 260.6,233.6 260.8,233.8 261.1,234.0 261.4,234.3 261.8,234.5 262.1,234.7 262.4,234.9 262.7,235.1 263.1,235.2 263.4,235.3 263.7,235.4 264.0,235.4 264.3,235.4 264.6,235.3 264.8,235.2 265.1,235.0 265.4,234.8 265.7,234.6 266.0,234.4 266.3,234.1 266.5,233.9 266.8,233.6 267.1,233.3 267.4,233.0 267.6,232.8 267.9,232.5 268.2,232.2 268.5,232.0 268.7,231.8 269.0,231.5 269.3,231.3 269.6,231.1 269.8,230.9 270.1,230.6 270.4,230.4 270.6,230.1 270.9,229.9 271.1,229.7 271.4,229.4 271.7,229.2 271.9,228.9 272.2,228.7 272.4,228.4 272.7,228.2 272.9,227.9 273.2,227.7 273.5,227.5 273.7,227.2 274.0,227.0 274.2,226.8 274.5,226.5 274.8,226.3 275.0,226.1 275.3,225.8 275.6,225.6 275.9,225.4 276.1,225.2 276.4,225.0 276.7,224.8 277.0,224.6 277.3,224.4 277.5,224.2 277.8,224.0 278.1,223.9 278.4,223.7 278.7,223.5 279.0,223.3 279.3,223.2 279.6,223.0 279.9,222.8 280.2,222.7 280.5,222.5 280.9,222.3 281.2,222.2 281.5,222.0 281.8,221.8 282.1,221.7 282.4,221.5 282.8,221.4 283.1,221.2 283.4,221.1 283.7,220.9 284.1,220.8 284.4,220.6 284.7,220.5 285.0,220.3 285.4,220.2 285.7,220.1 286.0,219.9 286.3,219.8 286.7,219.7 287.0,219.5 287.3,219.4 287.7,219.3 288.0,219.2 288.3,219.1 288.7,218.9 289.0,218.8 289.3,218.7 289.7,218.6 290.0,218.5 290.3,218.4 290.6,218.3 291.0,218.2 291.3,218.1 291.6,218.0 292.0,217.9 292.3,217.8 292.6,217.7 293.0,217.6 293.3,217.5 293.7,217.4 294.0,217.3 294.3,217.2 294.7,217.1 295.0,217.0 295.4,217.0 295.7,216.9 296.0,216.8 296.4,216.7 296.7,216.6 297.1,216.5 297.4,216.4 297.8,216.4 298.1,216.3 298.4,216.2 298.8,216.1 299.1,216.1 299.5,216.0 299.8,215.9 300.2,215.8 300.5,215.8 300.9,215.7 301.2,215.6 301.6,215.6 301.9,215.5 302.3,215.4 302.6,215.4 302.9,215.3 303.3,215.3 303.6,215.2 304.0,215.1 304.3,215.1 304.7,215.0 305.0,215.0 305.4,214.9 305.7,214.9 306.1,214.9 306.4,214.8 306.8,214.8 307.1,214.7 307.4,214.7 307.8,214.6 308.1,214.6 308.5,214.6 308.8,214.5 309.2,214.5 309.5,214.4 309.9,214.4 310.2,214.4 310.6,214.3 310.9,214.3 311.3,214.3 311.6,214.2 312.0,214.2 312.3,214.2 312.7,214.1 313.0,214.1 313.4,214.1 313.7,214.0 314.1,214.0 314.4,214.0 314.8,213.9 315.1,213.9 315.5,213.9 315.8,213.8 316.2,213.8 316.5,213.8 316.9,213.8 317.2,213.7 317.6,213.7 317.9,213.7 318.3,213.6 318.6,213.6 319.0,213.6 319.3,213.6 319.7,213.5 320.0,213.5 320.4,213.5 320.7,213.4 321.1,213.4 321.4,213.4 321.8,213.4 322.1,213.3 322.5,213.3 322.8,213.3 323.2,213.2 323.5,213.2 323.9,213.2 324.2,213.2 324.6,213.1 324.9,213.1 325.3,213.1 325.6,213.0 326.0,213.0 326.3,213.0 326.7,213.0 327.0,212.9 327.4,212.9 327.7,212.9 328.1,212.9 328.4,212.8 328.8,212.8 329.1,212.8 329.5,212.8 329.8,212.7 330.2,212.7 330.5,212.7 330.9,212.7 331.2,212.7 331.6,212.6 331.9,212.6 332.3,212.6 332.7,212.6 333.0,212.6 333.4,212.6 333.7,212.5 334.1,212.5 334.4,212.5 334.8,212.5 335.1,212.5 335.5,212.5 335.8,212.5 336.2,212.5 336.5,212.5 336.9,212.5 337.2,212.4 337.6,212.4 337.9,212.4 338.3,212.4 338.6,212.4 339.0,212.4 339.3,212.4 339.7,212.4 340.0,212.4 340.4,212.4 340.7,212.4 341.1,212.4 341.4,212.4 341.8,212.3 342.1,212.3 342.5,212.3 342.8,212.3 343.2,212.3 343.5,212.3 343.9,212.3 344.2,212.3 344.6,212.3 344.9,212.3 345.3,212.3 345.6,212.3 346.0,212.3 346.3,212.3 346.7,212.3 347.0,212.3 347.4,212.3 347.7,212.3 348.1,212.3 348.4,212.3 348.8,212.3 349.1,212.3 349.5,212.3 349.8,212.3 350.2,212.3 350.5,212.3 350.9,212.3 351.2,212.3" stroke-width="0.9"/>
<path d="M246.2,222.8 246.6,222.8 247.0,222.8 247.4,222.8 247.8,222.8 248.2,222.7 248.6,222.7 249.0,222.6 249.5,222.7 249.9,222.6 250.3,222.7 250.6,222.6 250.9,222.5 251.1,222.2 251.5,221.9 251.6,221.5 251.9,221.1 252.1,220.7 252.4,220.4 252.7,220.0 253.0,219.8 253.3,219.6 253.6,219.8 253.9,220.1 254.1,220.5 254.4,220.9 254.5,221.3 254.7,221.6 254.8,222.0 255.0,222.4 255.1,222.8 255.3,223.1 255.3,223.6 255.5,223.9 255.5,224.3 255.6,224.7 255.7,225.1 255.9,225.5 255.9,225.9 256.0,226.3 256.0,226.7 256.2,227.0 256.2,227.4 256.4,227.9 256.3,228.3 256.5,228.7 256.5,229.1 256.6,229.4 256.6,229.9 256.8,230.2 256.7,230.6 256.9,231.0 256.9,231.4 257.0,231.8 257.0,232.2 257.2,232.6 257.1,233.0 257.3,233.4 257.3,233.8 257.4,234.2 257.4,234.6 257.5,235.0 257.5,235.4 257.7,235.8 257.7,236.2 257.8,236.6 257.8,237.0 258.0,237.4 258.0,237.8 258.2,238.2 258.2,238.6 258.3,238.9 258.3,239.3 258.5,239.7 258.5,240.1 258.7,240.5 258.7,240.9 258.9,241.2 258.9,241.6 259.1,242.0 259.1,242.4 259.3,242.8 259.4,243.2 259.5,243.6 259.6,244.0 259.8,244.4 259.8,244.8 260.0,245.2 260.0,245.6 260.2,245.9 260.2,246.3 260.4,246.7 260.5,247.1 260.7,247.4 260.7,247.9 260.9,248.2 260.9,248.6 261.1,249.0 261.2,249.4 261.4,249.8 261.4,250.2 261.6,250.5 261.6,250.9 261.8,251.3 261.9,251.7 262.1,252.1 262.1,252.5 262.3,252.8 262.3,253.2 262.5,253.5 262.6,254.0 262.8,254.3 262.8,254.6 263.1,255.0 263.0,255.6 263.4,255.9 263.2,256.3 263.5,256.5 263.4,257.1 263.8,257.4 263.6,257.9 264.1,258.2 263.8,258.8 264.4,259.2 264.1,259.6 264.6,259.7 264.3,260.2 264.9,260.5 264.5,261.1 265.1,261.3 264.8,261.7 265.5,261.9 265.0,262.5 265.7,262.7 265.3,263.4 266.0,263.7 265.4,264.4 266.3,264.1 265.6,264.8 266.5,265.0 266.0,265.7 266.8,265.7 266.2,266.6 267.1,267.3 266.6,267.5 267.4,267.2 266.8,267.9 267.8,267.9 267.1,268.6 268.2,268.6 267.4,269.4 268.6,269.3 267.6,270.2 269.0,270.0 267.9,270.9 269.2,270.8 268.3,271.6 269.7,271.4 268.4,272.5 270.3,272.0 269.1,273.0 270.2,273.0 269.4,273.8 270.9,273.5 269.9,274.4 271.2,273.9 269.9,275.3 271.5,274.6 270.4,275.4 271.9,275.2 270.7,276.6 272.5,276.4 271.1,277.7 272.7,277.0 271.7,278.4 273.3,278.7 271.8,280.5 273.6,278.4 272.5,280.4 274.5,281.6 272.7,282.8 274.9,279.9 273.3,281.0 275.6,279.7 274.0,281.6 275.8,280.4 274.2,281.9 276.5,280.7 275.0,283.3 277.2,282.4 275.3,284.2 277.6,282.1 275.8,284.4 278.2,282.6 276.5,284.6 278.9,282.3 277.1,285.2 279.3,283.9 277.8,286.6 279.6,285.0 278.2,287.4 280.5,286.6 279.0,289.3 281.0,285.9 279.7,288.6 281.7,287.9 280.6,288.8 282.3,286.1 280.9,288.7 283.4,285.6 281.5,289.3 283.7,286.7 282.9,288.8 284.2,288.4 282.8,292.4 284.9,288.6 283.5,290.9 285.7,287.9 284.3,291.3 286.5,288.4 285.3,291.9 286.8,289.4 285.8,292.1 287.7,289.0 286.7,292.8 288.4,290.6 287.5,291.5 288.9,289.5 288.3,293.6 289.8,290.3 288.9,292.3 290.5,290.1 289.9,294.1 291.1,293.5 290.3,295.4 292.0,290.8 291.4,293.6 292.7,291.2 292.0,294.6 293.5,291.4 293.0,294.0 294.2,291.1 293.9,292.6 294.8,291.7 294.3,295.2 295.7,292.0 295.1,295.4 296.5,292.2 296.0,295.4 297.1,291.8 296.7,292.8 298.1,290.2 297.5,295.7 298.6,293.5 298.2,296.5 299.5,293.3 299.2,296.2 300.2,293.8 299.8,297.1 301.1,293.5 300.7,297.0 301.8,294.0 301.4,298.0 302.6,292.5 302.4,293.3 303.5,292.3 303.1,297.0 304.1,294.4 303.9,297.5 304.9,294.3 304.7,297.5 305.7,296.1 305.4,301.1 306.5,296.2 306.3,297.8 307.2,295.1 307.1,298.0 308.1,294.7 307.8,298.7 308.8,294.8 308.6,296.8 309.6,294.7 309.4,298.7 310.5,295.1 310.3,298.3 311.2,295.0 311.1,296.7 312.0,295.0 311.9,298.2 312.7,295.0 312.7,298.2 313.5,296.3 313.4,299.4 314.4,296.0 314.4,298.4 315.1,296.2 315.1,299.0 316.0,296.1 315.8,299.7 316.7,296.5 316.7,299.3 317.6,296.3 317.5,299.6 318.3,296.7 318.2,300.0 319.1,296.8 319.0,300.1 319.9,296.8 319.8,300.2 320.7,297.0 320.6,301.3 321.5,300.2 321.4,303.9 322.2,298.8 322.2,300.7 323.0,297.8 323.1,300.3 323.8,298.0 323.8,300.9 324.6,298.0 324.7,300.2 325.4,297.9 325.5,300.3 326.2,298.2 326.2,302.4 327.0,298.0 327.0,299.6 327.8,297.6 327.8,301.2 328.6,298.4 328.7,301.4 329.3,299.4 329.4,302.2 330.2,298.4 330.2,301.5 331.0,298.1 331.0,301.9 331.7,298.6 331.8,301.3 332.6,298.5 332.7,301.3 333.3,298.1 333.5,299.4 334.1,298.3 334.3,301.8 335.0,298.4 335.1,301.6 335.7,299.9 335.9,302.4 336.5,299.6 336.7,301.6 337.3,299.4 337.4,302.4 338.1,299.6 338.3,302.3 338.9,299.6 339.1,301.6 339.7,298.0 339.8,301.5 340.5,299.3 340.7,302.3 341.3,299.6 341.5,302.3 342.1,300.1 342.3,302.7 342.9,300.1 343.1,302.5 343.7,299.3 343.9,302.5 344.5,299.9 344.7,303.3 345.3,302.5 345.5,303.8 346.1,299.9 346.3,302.8 346.9,298.9 347.1,299.8 347.7,299.0 347.9,302.5 348.5,299.9 348.7,302.7 349.3,300.3 349.5,301.6 350.1,297.5 350.3,301.3 350.9,298.9 351.1,300.4 351.7,299.3 351.9,303.3" stroke-width="1.1"/>
<text x="332.7" y="231.1" font-size="13.3" text-anchor="start" >P1</text>
<text x="305.0" y="329.3" font-size="13.3" text-anchor="start" >Control</text>
<text x="462.5" y="188.4" font-size="12" text-anchor="middle" >U46619 3 µM +</text>
<text x="404.6" y="203" font-size="12" text-anchor="start" >Indomethacin 10 µM</text>
<path d="M401.7,232.8 L408.1,232.8 L404.9,225.2 Z" class="f"/>
<path d="M405.8,223.7 406.2,223.7 406.5,223.7 406.9,223.7 407.2,223.6 407.6,223.6 407.9,223.6 408.3,223.6 408.6,223.6 409.0,223.6 409.4,223.6 409.7,223.5 410.1,223.5 410.4,223.5 410.6,223.4 410.8,223.1 411.0,222.8 411.2,222.5 411.4,222.1 411.6,221.8 411.9,221.5 412.1,221.2 412.4,220.9 412.7,220.6 412.9,220.4 413.2,220.4 413.4,220.5 413.7,220.8 413.9,221.1 414.2,221.4 414.4,221.8 414.5,222.1 414.7,222.4 414.8,222.7 415.0,223.0 415.1,223.3 415.2,223.6 415.3,224.0 415.4,224.3 415.6,224.7 415.7,225.0 415.8,225.4 415.9,225.7 416.0,226.0 416.1,226.4 416.2,226.7 416.3,227.1 416.4,227.4 416.6,227.7 416.7,228.0 416.9,228.4 417.0,228.7 417.1,229.0 417.3,229.4 417.4,229.7 417.6,230.1 417.7,230.4 417.9,230.7 418.0,231.1 418.2,231.4 418.3,231.7 418.5,232.1 418.7,232.4 418.8,232.7 419.0,233.0 419.2,233.2 419.4,233.5 419.6,233.8 419.8,234.0 420.0,234.3 420.2,234.5 420.5,234.7 420.8,235.0 421.0,235.2 421.3,235.5 421.7,235.7 422.0,235.9 422.3,236.1 422.6,236.3 423.0,236.4 423.3,236.5 423.6,236.6 423.9,236.6 424.2,236.6 424.6,236.5 424.9,236.4 425.2,236.3 425.5,236.2 425.8,236.0 426.2,235.9 426.5,235.7 426.8,235.5 427.1,235.3 427.5,235.1 427.8,234.9 428.1,234.7 428.4,234.5 428.7,234.3 429.0,234.1 429.3,233.9 429.5,233.7 429.8,233.5 430.1,233.3 430.4,233.1 430.7,232.9 430.9,232.7 431.2,232.4 431.5,232.2 431.7,232.0 432.0,231.7 432.2,231.5 432.5,231.2 432.8,231.0 433.0,230.7 433.3,230.5 433.5,230.3 433.8,230.0 434.0,229.8 434.3,229.5 434.6,229.3 434.8,229.0 435.1,228.8 435.3,228.5 435.6,228.3 435.9,228.1 436.1,227.8 436.4,227.6 436.7,227.4 436.9,227.2 437.2,227.0 437.5,226.7 437.8,226.5 438.1,226.3 438.4,226.1 438.6,225.9 438.9,225.7 439.2,225.5 439.5,225.3 439.8,225.1 440.1,224.9 440.4,224.7 440.7,224.5 441.0,224.3 441.3,224.1 441.6,223.9 441.9,223.7 442.2,223.5 442.5,223.3 442.8,223.1 443.1,222.9 443.4,222.7 443.7,222.5 444.0,222.4 444.3,222.2 444.6,222.0 444.9,221.8 445.2,221.6 445.5,221.4 445.8,221.3 446.1,221.1 446.4,220.9 446.7,220.8 447.0,220.6 447.3,220.4 447.7,220.3 448.0,220.1 448.3,220.0 448.6,219.8 448.9,219.7 449.2,219.6 449.6,219.4 449.9,219.3 450.2,219.2 450.5,219.1 450.8,218.9 451.2,218.8 451.5,218.7 451.8,218.6 452.1,218.4 452.5,218.3 452.8,218.2 453.1,218.1 453.5,218.0 453.8,217.9 454.1,217.8 454.5,217.7 454.8,217.5 455.1,217.4 455.5,217.3 455.8,217.2 456.2,217.1 456.5,217.0 456.8,216.9 457.2,216.8 457.5,216.7 457.9,216.6 458.2,216.5 458.5,216.4 458.9,216.4 459.2,216.3 459.6,216.2 459.9,216.1 460.3,216.0 460.6,215.9 461.0,215.8 461.3,215.8 461.7,215.7 462.0,215.6 462.3,215.5 462.7,215.5 463.0,215.4 463.4,215.3 463.7,215.2 464.1,215.2 464.4,215.1 464.8,215.0 465.1,215.0 465.4,214.9 465.8,214.9 466.1,214.8 466.5,214.7 466.8,214.7 467.2,214.6 467.5,214.6 467.9,214.5 468.2,214.4 468.6,214.4 468.9,214.3 469.3,214.3 469.6,214.2 470.0,214.2 470.3,214.1 470.6,214.1 471.0,214.0 471.3,214.0 471.7,213.9 472.0,213.9 472.4,213.8 472.7,213.8 473.1,213.7 473.4,213.7 473.8,213.6 474.1,213.6 474.5,213.5 474.8,213.5 475.2,213.5 475.5,213.4 475.9,213.4 476.2,213.3 476.6,213.3 476.9,213.3 477.3,213.2 477.7,213.2 478.0,213.2 478.4,213.1 478.7,213.1 479.1,213.1 479.4,213.0 479.8,213.0 480.1,213.0 480.5,213.0 480.8,212.9 481.2,212.9 481.5,212.9 481.9,212.9 482.2,212.8 482.6,212.8 482.9,212.8 483.3,212.8 483.6,212.7 484.0,212.7 484.3,212.7 484.7,212.7 485.0,212.6 485.4,212.6 485.7,212.6 486.1,212.6 486.4,212.6 486.8,212.5 487.1,212.5 487.5,212.5 487.8,212.5 488.2,212.5 488.5,212.4 488.9,212.4 489.2,212.4 489.6,212.4 489.9,212.4 490.3,212.4 490.6,212.3 491.0,212.3 491.3,212.3 491.7,212.3 492.1,212.3 492.4,212.3 492.8,212.3 493.1,212.3 493.5,212.3 493.8,212.3 494.2,212.3 494.5,212.3 494.9,212.3 495.2,212.2 495.6,212.2 495.9,212.2 496.3,212.2 496.6,212.2 497.0,212.2 497.3,212.2 497.7,212.2 498.0,212.2 498.4,212.2 498.7,212.2 499.1,212.2 499.4,212.2 499.8,212.2 500.1,212.2 500.5,212.2 500.8,212.2 501.2,212.2 501.6,212.2 501.9,212.2 502.3,212.2 502.6,212.2 503.0,212.2 503.3,212.2 503.7,212.2 504.0,212.2 504.4,212.2 504.7,212.2 505.1,212.2 505.4,212.2 505.8,212.2 506.1,212.2 506.5,212.2 506.8,212.2 507.2,212.2 507.5,212.2 507.9,212.2 508.2,212.2 508.6,212.2 508.9,212.2 509.3,212.2 509.6,212.2 510.0,212.2" stroke-width="0.9"/>
<path d="M405.8,223.7 406.2,223.6 406.6,223.7 407.0,223.6 407.4,223.7 407.8,223.6 408.2,223.7 408.6,223.6 409.1,223.6 409.5,223.5 409.9,223.5 410.2,223.3 410.5,223.3 410.8,223.1 411.1,222.9 411.2,222.4 411.5,222.1 411.7,221.7 412.1,221.4 412.3,221.0 412.6,220.7 412.9,220.4 413.2,220.5 413.5,220.6 413.8,221.0 414.1,221.3 414.2,221.7 414.4,222.0 414.5,222.4 414.7,222.8 414.7,223.2 414.9,223.6 414.9,224.0 415.1,224.3 415.1,224.7 415.2,225.1 415.3,225.6 415.4,226.0 415.4,226.4 415.6,226.7 415.6,227.2 415.8,227.5 415.8,227.9 416.0,228.3 416.0,228.7 416.2,229.1 416.2,229.5 416.4,229.9 416.4,230.3 416.5,230.7 416.6,231.1 416.7,231.4 416.7,231.8 416.9,232.2 416.9,232.6 417.1,233.0 417.1,233.5 417.2,233.8 417.2,234.2 417.4,234.6 417.4,235.0 417.6,235.4 417.6,235.8 417.8,236.2 417.8,236.6 418.0,236.9 418.0,237.3 418.1,237.7 418.1,238.1 418.3,238.5 418.3,238.9 418.5,239.3 418.5,239.7 418.6,240.2 418.6,240.5 418.8,240.9 418.8,241.3 419.0,241.6 419.0,242.1 419.2,242.4 419.2,242.8 419.3,243.2 419.3,243.6 419.5,244.0 419.5,244.4 419.7,244.8 419.7,245.2 419.9,245.5 419.9,246.0 420.1,246.4 420.1,246.8 420.3,247.1 420.3,247.5 420.5,247.9 420.5,248.3 420.7,248.7 420.7,249.1 420.9,249.5 420.9,249.8 421.1,250.2 421.2,250.6 421.4,251.0 421.4,251.4 421.6,251.7 421.6,252.2 421.8,252.5 421.9,252.9 422.1,253.3 422.1,253.6 422.3,254.1 422.3,254.6 422.5,254.9 422.5,255.2 422.8,255.6 422.7,256.1 423.0,256.4 422.9,256.8 423.3,257.1 423.1,257.6 423.5,257.9 423.3,258.4 423.7,258.7 423.6,259.1 424.0,259.3 423.8,259.5 424.2,260.0 424.0,260.7 424.5,261.0 424.1,261.7 424.7,262.2 424.3,262.5 424.9,262.5 424.6,263.0 425.2,263.3 424.8,263.9 425.4,264.1 425.1,264.5 425.7,264.7 425.2,265.3 425.9,265.5 425.4,265.9 426.2,266.2 425.7,266.9 426.5,267.1 426.0,267.7 426.8,267.8 426.3,268.4 427.1,268.5 426.4,269.2 427.4,269.2 426.8,269.8 427.7,269.9 427.1,270.6 428.1,270.7 427.4,271.4 428.5,271.4 427.5,272.3 428.9,272.1 427.9,273.0 429.2,272.7 428.1,273.4 429.4,273.4 428.3,274.6 429.9,274.3 428.6,275.4 430.0,275.1 428.9,276.1 430.4,275.8 429.4,276.8 431.1,276.4 429.8,277.8 431.4,277.8 429.9,278.7 431.7,276.9 430.2,277.1 432.2,277.7 430.5,280.1 432.7,279.2 430.6,280.8 432.9,279.8 431.1,281.8 433.4,281.2 431.7,282.4 433.9,281.0 432.2,282.7 434.4,281.8 433.1,283.5 434.6,282.7 433.2,284.3 435.3,282.7 433.8,284.9 436.2,284.5 434.3,286.1 436.3,284.1 434.9,286.0 437.2,284.4 435.4,286.6 437.6,285.1 436.0,287.3 437.9,286.3 436.4,288.2 439.1,285.9 437.5,288.0 439.5,286.5 437.4,289.2 440.1,286.7 438.2,288.8 440.6,287.3 438.8,290.2 441.5,287.8 439.1,291.2 441.6,289.3 440.4,291.1 442.5,289.4 440.5,292.6 442.9,290.1 441.2,292.6 443.5,291.9 441.9,296.5 444.0,292.5 442.9,292.1 444.8,289.1 443.3,293.0 445.7,291.2 444.0,294.4 446.0,292.0 445.0,294.4 446.6,292.5 445.4,295.3 447.2,293.0 446.1,295.9 448.0,293.2 446.8,296.2 448.7,293.5 447.7,296.2 449.5,293.6 448.3,297.0 450.0,294.2 449.2,296.8 450.7,294.6 449.9,297.5 451.6,294.6 450.8,297.8 452.3,295.6 451.3,298.8 453.2,295.0 452.3,298.4 453.9,294.5 453.0,296.1 454.5,294.7 453.5,299.7 455.4,295.8 454.6,298.9 456.0,296.4 455.2,299.7 456.8,296.7 456.1,299.6 457.3,297.8 456.7,301.4 458.4,298.0 457.7,300.5 459.1,296.1 458.3,299.9 459.6,298.1 459.0,301.2 460.4,298.9 459.7,302.6 461.3,299.1 460.7,300.3 462.0,294.4 461.4,298.2 462.9,297.6 462.0,302.4 463.6,298.8 462.9,302.4 464.3,299.3 463.6,302.9 465.1,299.3 464.6,302.4 465.8,299.8 465.1,303.6 466.6,299.7 466.2,302.7 467.3,300.4 466.9,303.2 468.2,300.1 467.7,303.4 468.8,300.8 468.4,304.3 469.5,301.6 469.2,304.4 470.4,300.7 470.0,304.4 471.1,301.2 470.9,304.0 471.9,301.3 471.5,305.1 472.7,301.5 472.4,304.6 473.5,301.4 473.2,304.6 474.2,301.6 473.9,305.5 474.9,302.2 474.8,305.4 475.8,301.7 475.7,305.0 476.6,302.0 476.3,305.9 477.2,302.9 477.2,305.5 478.0,302.9 477.9,306.3 478.8,302.9 478.8,305.0 479.7,301.6 479.7,305.4 480.5,303.9 480.4,306.1 481.2,303.0 481.2,306.1 482.1,303.0 482.0,306.3 482.9,302.9 482.9,306.2 483.6,304.4 483.7,306.7 484.4,303.3 484.4,307.3 485.2,305.4 485.3,307.3 486.0,303.7 486.0,306.9 486.8,303.6 486.8,306.8 487.6,303.9 487.6,307.2 488.4,304.2 488.4,307.6 489.2,303.7 489.3,306.0 489.9,304.2 490.1,307.0 490.8,304.3 490.9,306.6 491.6,304.3 491.6,307.3 492.4,303.6 492.4,307.5 493.2,304.6 493.2,307.8 494.0,303.7 494.1,305.7 494.8,304.3 494.9,308.3 495.6,305.3 495.6,308.2 496.4,304.6 496.5,307.8 497.2,305.0 497.3,307.5 497.9,304.8 498.0,308.4 498.8,305.3 498.9,308.2 499.5,304.4 499.6,305.9 500.3,305.1 500.4,309.7 501.1,306.3 501.3,308.2 501.9,305.6 502.1,308.4 502.7,305.9 502.9,309.5 503.5,306.3 503.7,308.3 504.3,307.8 504.4,312.2 505.1,308.0 505.3,310.4 505.9,308.4 506.1,309.7 506.7,306.3 506.9,308.6 507.5,306.6 507.7,308.9 508.3,306.8 508.5,309.0 509.1,308.0 509.3,312.0 509.9,307.9 510.1,310.0 510.7,306.5 510.9,309.4 511.5,306.6 511.7,309.1 512.3,306.6 512.5,309.3 513.1,306.6" stroke-width="1.1"/>
<text x="490.3" y="233.9" font-size="13.3" text-anchor="start" >P1</text>
<text x="463.2" y="329.7" font-size="13.3" text-anchor="start" >Control</text>
<text x="-1.0" y="373.3" font-size="17" text-anchor="start" >C</text>
<text x="34.1" y="409.4" font-size="12" text-anchor="end" >0</text>
<text x="35.9" y="506.4" font-size="12" text-anchor="end" >70</text>
<path d="M38.7,402.2 H48.3 V501.8 H38.7 V499.70 H45.60 V404.30 H38.7 Z" class="f"/>
<text transform="translate(30,452.5) rotate(-90)" font-size="9.6" text-anchor="middle">Aggregation (%)</text>
<path d="M77.6,501.4 V504.9 H94.6 V501.4" class="sb"/>
<text x="87.2" y="518" font-size="11" text-anchor="middle" >60s</text>
<text x="94.4" y="382.4" font-size="12" text-anchor="start" >PAR1 agonist 100 µM</text>
<path d="M93.3,412 L100.3,412 L96.8,404.2 Z" class="f"/>
<path d="M97.2,402.3 97.6,402.3 97.9,402.3 98.3,402.3 98.6,402.3 99.0,402.3 99.4,402.3 99.7,402.3 100.1,402.3 100.5,402.3 100.8,402.3 101.2,402.3 101.5,402.3 101.9,402.3 102.3,402.3 102.6,402.3 103.0,402.3 103.4,402.3 103.7,402.3 104.1,402.3 104.4,402.3 104.8,402.3 105.2,402.3 105.5,402.3 105.9,402.3 106.3,402.3 106.6,402.3 107.0,402.3 107.3,402.3 107.7,402.3 108.1,402.3 108.4,402.3 108.8,402.3 109.2,402.3 109.5,402.3 109.9,402.3 110.2,402.3 110.6,402.3" stroke-width="0.9"/>
<path d="M110.2,402.3 110.4,402.0 110.6,401.7 110.8,401.4 111.0,401.2 111.2,400.8 111.5,400.6 111.6,400.3 112.0,400.1 112.1,399.6 112.5,399.5 112.6,399.0 113.0,399.1 113.2,398.9 113.2,399.3 113.6,399.3 113.6,399.7 114.0,400.0 113.9,400.5 114.4,400.8 114.2,401.3 114.7,401.6 114.5,402.0 114.9,402.3 114.6,402.7 115.1,402.9 114.8,403.4 115.2,403.6 114.9,404.1 115.4,404.3 115.1,404.7 115.5,405.0 115.3,405.4 115.8,405.7 115.4,406.1 115.9,406.4 115.5,406.8 116.0,407.1 115.6,407.5 116.1,407.8 115.6,408.2 116.2,408.5 115.8,408.9 116.3,409.2 115.9,409.6 116.5,409.9 116.1,410.3 116.6,410.6 116.2,411.0 116.7,411.3 116.2,411.7 116.8,412.0 116.4,412.4 117.0,412.6 116.5,413.1 117.1,413.3 116.5,413.8 117.3,414.0 116.7,414.5 117.3,414.7 116.8,415.2 117.3,415.4 116.9,415.9 117.6,416.1 117.0,416.6 117.6,416.8 117.2,417.3 117.8,417.5 117.1,418.0 117.8,418.2 117.3,418.7 117.9,418.9 117.4,419.4 118.0,419.6 117.5,420.1 118.1,420.3 117.6,420.8 118.2,421.0 117.7,421.4 118.3,421.7 117.8,422.1 118.5,422.4 117.9,422.8 118.6,423.1 118.0,423.5 118.7,423.8 118.2,424.2 118.8,424.5 118.3,424.9 118.9,425.2 118.4,425.6 119.0,425.8 118.6,426.3 119.3,426.5 118.7,427.0 119.4,427.2 118.9,427.7 119.5,427.9 118.9,428.4 119.6,428.6 119.1,429.1 119.8,429.3 119.3,429.7 120.0,429.9 119.5,430.4 120.1,430.6 119.7,431.1 120.3,431.3 119.9,431.8 120.5,432.0 120.0,432.5 120.7,432.6 120.2,433.2 120.9,433.3 120.5,433.8 121.0,434.0 120.6,434.5 121.3,434.7 120.8,435.2 121.5,435.4 120.9,435.9 121.7,436.0 121.2,436.5 121.9,436.7 121.4,437.2 122.1,437.4 121.6,437.9 122.2,438.1 121.8,438.6 122.4,438.8 122.0,439.2 122.7,439.4 122.1,439.9 122.9,440.1 122.3,440.6 123.1,440.8 122.6,441.3 123.3,441.4 122.8,441.9 123.5,442.1 123.0,442.6 123.7,442.8 123.2,443.3 123.9,443.4 123.3,444.0 124.2,444.1 123.6,444.7 124.4,444.7 123.8,445.3 124.6,445.4 124.1,446.0 124.9,446.0 124.5,446.6 125.2,446.7 124.6,447.3 125.4,447.4 124.7,448.0 125.7,448.0 125.3,448.6 126.0,448.6 125.4,449.3 126.2,449.3 125.8,449.9 126.6,449.9 125.9,450.6 127.0,450.5 126.4,451.2 127.4,451.1 126.7,451.8 127.6,451.7 127.0,452.5 128.0,452.3 127.2,453.2 128.5,452.9 127.7,453.7 128.7,453.5 128.0,454.4 129.0,454.2 128.3,455.0 129.4,454.7 128.7,455.6 129.8,455.3 128.9,456.3 130.4,455.7 129.4,456.8 130.8,456.3 129.7,457.5 131.2,456.8 130.0,458.1 131.6,457.4 130.5,458.7 132.1,457.9 131.0,459.3 132.4,458.5 131.8,459.6 133.2,458.7 132.1,460.2 133.4,459.4 132.1,461.2 134.0,459.8 132.9,461.5 134.5,460.2 133.4,462.0 135.0,460.7 134.0,462.4 135.6,460.9 134.7,462.7 136.3,461.1 135.0,463.5 136.8,461.6 135.7,463.8 137.3,462.1 136.2,464.3 137.8,462.6 137.0,464.5 138.6,462.8 137.3,465.2 139.2,463.2 137.8,465.8 139.7,463.7 138.6,465.8 140.4,463.8 138.9,466.5 140.7,464.7 139.6,466.8 141.5,464.9 140.1,467.4 142.0,465.4 140.6,467.9 142.5,465.9 141.3,468.1 143.2,466.2 141.9,468.6 143.9,466.4 142.5,469.0 144.3,467.1 142.8,469.8 144.8,467.6 143.5,470.1 145.6,467.6 144.2,470.4 145.9,468.3 145.0,470.5 146.8,468.2 145.7,470.8 147.0,469.1 146.0,471.8 148.0,468.6 146.9,471.7 148.3,469.4 147.5,472.2 149.0,469.2 148.3,472.2 149.6,469.6 148.9,472.7 150.2,469.7 149.5,472.9 150.9,469.9 150.3,472.7 151.4,470.5 150.9,473.3 152.0,470.7 151.7,473.1 152.7,470.7 152.1,474.1 153.4,471.0 153.0,473.7 154.2,470.7 153.7,473.8 154.8,471.0 154.2,474.5 155.5,471.1 155.0,474.4 156.1,471.5 155.7,474.5 156.7,472.0 156.5,474.5 157.5,471.8 157.2,474.8 158.1,472.4 157.8,475.2 158.8,472.1 158.5,475.2 159.6,472.1 159.3,475.2 160.2,472.4 159.9,475.6 160.9,472.6 160.7,475.6 161.7,472.4 161.4,475.5 162.3,472.9 162.1,476.1 163.0,473.0 162.8,476.1 163.7,473.0 163.5,476.4 164.3,473.6 164.3,476.0 165.0,473.7 164.9,476.5 165.7,473.5 165.7,476.4 166.5,473.3 166.4,476.5 167.1,473.8 167.1,476.6 167.8,473.9 167.8,476.8 168.5,473.7 168.4,477.0 169.2,473.9 169.2,476.9 170.0,473.4 169.9,477.0 170.6,474.1 170.6,477.2 171.3,474.2 171.3,477.3 172.0,474.2 172.0,477.5 172.7,474.4 172.7,477.0 173.4,474.4 173.4,477.4 174.1,474.3 174.1,477.6 174.8,474.1 174.8,477.7 175.5,474.5 175.5,477.7 176.2,474.4 176.2,477.5 176.9,474.2 176.9,477.5 177.5,474.8 177.6,477.9 178.3,474.6 178.3,478.0 178.9,475.3 179.0,478.4 179.7,474.7 179.7,478.3 180.3,475.4 180.5,478.0 181.1,474.7 181.2,477.7 181.7,475.4 181.8,478.8 182.4,475.4 182.6,478.4 183.1,475.7 183.3,477.9 183.8,475.4 183.9,478.8 184.5,475.7 184.7,478.7 185.2,475.6 185.4,478.5 185.9,475.3 186.1,478.8 186.6,475.2 186.8,478.2 187.3,475.5 187.5,479.1 188.0,475.5 188.2,478.8 188.7,475.5 188.9,478.7 189.4,475.5 189.6,478.7 190.2,475.4 190.3,478.8 190.8,476.3 191.0,478.7 191.5,475.8 191.7,479.4 192.2,475.7 192.4,478.8 192.9,476.0 193.1,478.9 193.6,475.7 193.8,478.9 194.3,475.6 194.5,479.1 195.0,476.5 195.2,478.9 195.7,475.8 195.9,479.1 196.4,476.1 196.7,479.0 197.1,476.5 197.4,478.8 197.8,476.2 198.1,479.3 198.5,476.1 198.8,478.7 199.2,476.4 199.5,479.3 199.9,476.4 200.2,479.1 200.6,475.9 200.9,479.2 201.3,476.3 201.6,479.3 202.0,476.3 202.3,479.0 202.7,476.1 203.0,478.8 203.4,476.1 203.7,479.3" stroke-width="1.5"/>
<path d="M110.2,402.3 110.4,402.0 110.6,401.7 110.8,401.4 111.0,401.2 111.2,400.8 111.5,400.6 111.6,400.3 112.0,400.1 112.1,399.6 112.6,399.5 112.6,399.0 113.0,399.2 113.2,398.9 113.1,399.3 113.5,399.4 113.3,399.8 113.8,400.1 113.5,400.6 114.0,401.0 113.7,401.5 114.1,401.8 113.9,402.2 114.3,402.5 114.0,402.9 114.5,403.2 114.2,403.6 114.6,403.9 114.2,404.3 114.8,404.6 114.4,405.0 114.9,405.3 114.4,405.7 114.9,406.0 114.5,406.4 115.1,406.7 114.7,407.1 115.1,407.4 114.7,407.8 115.4,408.0 114.8,408.5 115.4,408.7 115.0,409.2 115.5,409.4 115.0,409.9 115.6,410.1 115.2,410.5 115.7,410.8 115.2,411.3 115.8,411.5 115.3,412.0 115.9,412.2 115.3,412.7 116.0,412.9 115.5,413.3 116.1,413.6 115.6,414.0 116.1,414.3 115.7,414.7 116.3,415.0 115.8,415.4 116.5,415.7 115.9,416.1 116.4,416.4 115.9,416.8 116.5,417.1 116.0,417.5 116.7,417.8 116.1,418.2 116.6,418.5 116.2,418.9 116.8,419.2 116.2,419.6 116.9,419.9 116.4,420.3 117.0,420.6 116.4,421.0 117.2,421.3 116.5,421.7 117.2,422.0 116.6,422.4 117.3,422.7 116.8,423.1 117.4,423.3 116.8,423.8 117.5,424.0 116.9,424.5 117.8,424.7 117.0,425.2 117.7,425.4 117.2,425.9 117.8,426.1 117.2,426.6 118.1,426.8 117.4,427.3 118.1,427.5 117.5,427.9 118.2,428.2 117.5,428.7 118.3,428.9 117.8,429.3 118.5,429.6 117.9,430.0 118.7,430.2 118.0,430.7 118.9,430.9 118.1,431.4 118.7,431.6 118.3,432.1 118.9,432.3 118.4,432.8 119.1,433.0 118.5,433.5 119.3,433.7 118.5,434.2 119.5,434.4 118.8,434.9 119.6,435.1 118.7,435.6 119.7,435.7 119.0,436.2 119.9,436.4 119.2,436.9 119.9,437.1 119.3,437.6 120.0,437.8 119.3,438.3 120.2,438.5 119.4,439.0 120.5,439.2 119.6,439.7 120.5,439.9 119.7,440.4 120.7,440.6 119.9,441.1 120.7,441.3 119.9,441.8 120.9,442.0 120.1,442.5 121.1,442.6 120.0,443.2 121.3,443.3 120.4,443.8 121.3,444.0 120.4,444.6 121.3,444.7 120.4,445.3 121.4,445.4 120.8,445.9 121.7,446.1 120.8,446.6 121.9,446.7 121.0,447.3 122.2,447.4 121.1,448.0 122.4,448.0 121.4,448.7 122.6,448.7 121.7,449.4 122.7,449.4 121.6,450.1 122.9,450.1 121.8,450.8 123.1,450.8 122.2,451.4 123.4,451.4 122.4,452.1 123.6,452.1 122.4,452.9 123.8,452.8 122.5,453.6 124.0,453.5 123.1,454.2 124.4,454.1 123.2,454.9 124.6,454.7 123.5,455.5 124.8,455.4 123.7,456.2 125.0,456.1 124.1,456.8 125.2,456.7 124.1,457.6 125.7,457.3 124.6,458.1 126.1,457.8 124.9,458.8 126.3,458.5 125.2,459.4 126.5,459.1 125.3,460.1 126.9,459.6 125.6,460.7 127.3,460.2 126.0,461.3 127.5,460.8 126.4,462.0 128.2,461.2 126.7,462.6 128.3,461.9 127.2,463.2 129.1,462.2 127.4,463.9 129.5,462.8 127.6,464.7 129.7,463.5 128.3,465.1 130.3,463.9 128.9,465.5 131.0,464.2 129.1,466.3 131.2,465.0 129.6,466.8 131.6,465.6 130.2,467.3 132.4,465.8 130.4,468.1 132.7,466.4 130.9,468.6 132.9,467.2 131.2,469.3 133.7,467.4 132.1,469.5 134.0,468.1 132.1,470.4 134.7,468.3 132.8,470.8 135.3,468.6 133.2,471.4 135.7,469.1 133.5,472.2 136.6,469.1 134.2,472.5 136.6,470.1 135.1,472.6 137.6,470.1 135.3,473.5 137.3,471.5 135.8,474.0 138.8,470.8 136.7,473.9 139.3,471.3 137.3,474.3 140.0,471.5 137.5,475.2 140.2,472.4 137.8,476.0 140.7,472.9 138.8,475.9 141.1,473.6 139.2,476.4 142.1,473.6 139.5,477.2 142.4,474.3 140.4,477.2 143.0,474.7 140.6,478.2 143.2,475.6 141.5,478.2 144.1,475.7 141.8,478.9 144.7,476.0 142.4,479.3 145.1,476.5 142.9,480.0 145.9,476.7 143.5,480.4 146.3,477.2 144.5,480.3 146.9,477.5 144.7,481.4 147.6,477.6 145.5,481.6 147.9,478.3 145.9,482.4 148.6,478.1 146.8,482.3 148.9,478.9 147.4,482.9 149.5,479.0 148.0,483.2 150.0,479.4 148.8,483.1 150.8,479.2 149.5,483.4 151.2,479.9 150.2,483.4 152.1,479.6 150.7,484.2 152.5,480.2 151.4,484.2 153.3,480.0 151.6,485.8 153.9,480.5 152.8,484.6 154.8,479.7 153.4,485.2 155.2,480.8 154.0,485.7 155.8,481.0 154.6,486.3 156.3,481.7 155.5,485.8 157.3,481.0 155.8,487.1 157.8,481.7 156.9,486.1 158.4,482.2 157.5,486.7 159.1,482.2 158.3,486.5 159.7,482.4 158.9,487.0 160.6,482.0 159.8,486.6 161.1,482.8 160.5,486.8 161.9,482.5 161.2,486.9 162.5,482.8 161.9,487.4 163.2,483.2 162.6,487.5 164.0,482.8 163.3,487.7 164.5,483.6 164.0,487.9 165.0,484.5 164.6,488.9 165.8,484.1 165.5,487.9 166.6,483.5 166.1,488.3 167.3,483.4 166.8,488.6 167.9,483.8 167.5,488.6 168.6,484.2 168.1,489.4 169.3,483.9 168.9,488.9 170.0,483.9 169.7,488.7 170.6,484.2 170.4,488.7 171.3,484.5 171.0,489.3 172.0,484.7 171.8,489.1 172.8,483.9 172.4,489.2 173.3,485.1 173.2,489.0 174.1,484.7 173.8,489.8 174.7,485.3 174.5,489.6 175.5,484.6 175.3,489.2 176.1,485.0 176.0,489.5 176.9,484.8 176.7,490.0 177.5,485.1 177.4,489.6 178.2,485.6 178.1,489.8 178.9,485.1 178.8,490.2 179.6,485.0 179.4,490.9 180.2,485.9 180.2,490.1 181.0,485.2 180.9,490.5 181.7,485.5 181.6,490.6 182.4,485.1 182.4,490.3 183.0,485.9 183.1,489.5 183.7,486.6 183.7,490.8 184.4,485.8 184.5,489.7 185.1,486.0 185.2,489.8 185.8,485.8 185.9,490.2 186.6,485.4 186.6,490.8 187.2,486.5 187.3,489.8 187.9,485.8 188.0,490.2 188.6,485.8 188.7,490.8 189.3,485.9 189.4,490.6 190.0,486.5 190.1,490.7 190.7,486.1 190.8,491.1 191.4,486.5 191.5,491.0 192.1,486.2 192.2,491.4 192.8,487.1 192.9,490.4 193.5,486.9 193.6,491.2 194.2,486.5 194.3,491.1 194.9,486.8 195.0,491.2 195.6,486.9 195.7,491.2 196.3,486.0 196.5,490.7 197.0,486.5 197.1,491.2 197.7,486.9 197.9,491.0 198.3,487.3 198.6,490.7 199.0,487.3 199.3,491.4 199.7,487.0 200.0,490.6 200.5,486.2 200.7,491.5 201.1,487.2 201.4,491.5 201.8,486.9 202.1,491.6 202.5,486.4" stroke-width="1.5"/>
<text x="187.7" y="466.1" font-size="13.3" text-anchor="start" >P1</text>
<text x="156.8" y="509.1" font-size="13.3" text-anchor="start" >Control</text>
<text x="270.4" y="382.4" font-size="12" text-anchor="start" >CRP 1 µg/mL</text>
<path d="M242.1,407.8 L250,407.8 L246.05,400.2 Z" class="f"/>
<path d="M246.2,397.3 246.6,397.2 247.0,397.3 247.3,397.3 247.7,397.3 248.0,397.3 248.4,397.3 248.7,397.3 249.1,397.3 249.4,397.3 249.8,397.3 250.1,397.3 250.5,397.3 250.8,397.3 251.2,397.3 251.5,397.2 251.9,397.4 252.2,397.3 252.6,397.4 252.9,397.2 253.3,397.3 253.6,397.3 254.0,397.3 254.3,397.3 254.7,397.3 255.0,397.3 255.4,397.3 255.7,397.3 256.1,397.3 256.4,397.3 256.8,397.3 257.2,397.3 257.5,397.3 257.9,397.2 258.2,397.3 258.6,397.3 259.0,397.3 259.3,397.3 259.7,397.3 260.0,397.3 260.4,397.4 260.7,397.3 261.1,397.3 261.4,397.3 261.8,397.3 262.1,397.3 262.5,397.3 262.8,397.3 263.1,397.3 263.5,397.3 263.8,397.3 264.1,397.2 264.4,397.2 264.7,397.0 265.1,396.9 265.3,396.6 265.7,396.5 265.9,396.2 266.3,396.0 266.5,395.7 266.9,395.6 267.1,395.4 267.5,395.3 267.8,395.0 268.1,394.9 268.4,394.7 268.8,394.6 269.1,394.4 269.4,394.3 269.7,394.2 270.1,394.3 270.4,394.2 270.8,394.3 271.2,394.3 271.5,394.5 271.9,394.5 272.2,394.7 272.5,394.7 272.7,395.0 273.1,395.0 273.2,395.4 273.6,395.5 273.6,395.9 274.0,396.1 274.0,396.6 274.4,396.8 274.3,397.3 274.8,397.4 274.6,397.9 275.1,398.0 275.0,398.5 275.4,398.7 275.1,399.1 275.7,399.3 275.4,399.8 275.9,400.0 275.6,400.4 276.2,400.6 275.8,401.1 276.4,401.3 276.0,401.8 276.7,401.9 276.2,402.4 276.9,402.6 276.4,403.1 277.1,403.3 276.6,403.8 277.2,404.0 276.8,404.5 277.4,404.7 276.9,405.2 277.6,405.4 277.1,405.9 277.9,406.1 277.2,406.6 277.9,406.8 277.3,407.3 278.2,407.4 277.5,408.0 278.3,408.2 277.7,408.6 278.5,408.8 277.9,409.3 278.6,409.5 278.0,410.0 278.7,410.2 278.0,410.7 279.1,410.9 278.2,411.4 279.0,411.6 278.2,412.1 279.2,412.3 278.5,412.8 279.4,413.0 278.4,413.5 279.4,413.7 278.5,414.2 279.5,414.4 278.7,414.9 279.6,415.1 278.8,415.6 279.6,415.8 278.9,416.3 279.8,416.5 279.1,416.9 280.0,417.1 279.2,417.6 280.1,417.8 279.3,418.3 280.1,418.5 279.4,419.0 280.4,419.2 279.6,419.7 280.4,419.9 279.8,420.4 280.6,420.6 280.0,421.1 280.8,421.2 280.1,421.8 281.0,421.9 280.3,422.5 281.2,422.6 280.5,423.1 281.5,423.2 280.8,423.8 281.7,423.9 280.8,424.5 281.8,424.6 281.0,425.2 282.0,425.3 281.1,425.9 282.3,425.9 281.5,426.5 282.3,426.6 281.6,427.2 282.6,427.3 281.8,427.9 282.6,428.0 282.0,428.5 283.0,428.7 282.2,429.2 283.1,429.3 282.4,429.9 283.2,430.0 282.3,430.6 283.4,430.7 282.6,431.3 283.4,431.5 282.6,432.0 283.9,432.1 282.8,432.7 283.9,432.8 282.9,433.4 284.1,433.5 283.1,434.0 284.1,434.2 283.2,434.7 284.3,434.9 283.5,435.4 284.4,435.5 283.7,436.1 284.7,436.2 283.6,436.8 284.8,436.9 283.9,437.5 284.9,437.6 283.7,438.2 285.1,438.3 284.0,438.9 285.4,438.9 284.3,439.5 285.4,439.6 284.5,440.2 285.7,440.3 284.6,440.9 285.7,441.0 284.9,441.6 286.1,441.6 285.3,442.2 286.3,442.3 285.2,442.9 286.4,443.0 285.6,443.6 286.9,443.6 285.6,444.3 286.9,444.3 285.8,445.0 287.0,445.0 285.9,445.7 287.3,445.6 286.1,446.3 287.4,446.3 286.3,447.0 287.6,447.0 286.5,447.7 287.8,447.7 286.9,448.3 287.9,448.4 286.8,449.1 288.3,449.0 287.1,449.7 288.6,449.6 287.4,450.4 288.8,450.3 287.6,451.1 289.0,451.0 287.7,451.8 289.2,451.6 287.9,452.4 289.6,452.2 288.1,453.1 289.5,453.0 288.2,453.8 289.9,453.6 288.5,454.5 290.1,454.3 289.0,455.1 290.6,454.8 289.3,455.7 290.6,455.6 289.3,456.5 291.2,456.1 289.5,457.2 291.3,456.8 289.8,457.8 291.5,457.5 289.9,458.5 291.6,458.2 290.5,459.0 292.0,458.8 290.7,459.8 292.4,459.4 290.7,460.5 292.7,460.0 291.2,461.1 292.9,460.6 291.5,461.7 293.3,461.2 291.7,462.4 293.6,461.8 292.1,463.0 294.2,462.3 292.4,463.6 294.5,462.9 292.7,464.3 294.7,463.5 293.0,465.0 295.4,463.9 293.2,465.7 295.7,464.5 293.7,466.2 295.7,465.3 294.3,466.7 296.6,465.5 294.5,467.5 296.9,466.2 294.6,468.3 297.5,466.6 295.3,468.7 297.7,467.3 295.5,469.4 298.3,467.7 295.9,470.1 298.4,468.5 296.3,470.7 299.0,468.9 296.8,471.2 299.7,469.2 297.4,471.6 300.0,469.8 297.6,472.4 300.2,470.6 298.2,472.8 301.1,470.7 298.6,473.5 301.1,471.6 299.2,473.9 301.9,471.8 299.9,474.3 302.7,471.9 300.0,475.2 303.4,472.2 300.3,476.0 303.5,473.0 301.0,476.3 304.2,473.2 301.7,476.7 304.7,473.7 302.5,476.9 305.1,474.2 303.0,477.4 305.8,474.4 303.3,478.2 306.0,475.3 304.2,478.3 306.7,475.5 304.3,479.4 307.6,475.3 305.0,479.7 307.8,476.2 306.0,479.7 308.9,475.5 306.4,480.7 308.9,476.6 307.2,480.9 309.6,476.5 308.2,480.6 310.0,477.2 308.8,480.9 310.9,476.7 309.2,482.0 311.2,477.6 310.0,481.8 311.8,478.0 310.6,482.3 312.5,478.2 311.4,482.5 313.3,477.8 312.0,483.1 313.9,478.0 312.7,483.2 314.4,478.6 313.4,483.5 315.1,478.9 314.3,483.2 315.8,479.0 315.1,483.0 316.6,478.7 315.6,483.9 317.1,479.1 316.4,483.7 317.6,480.0 317.0,484.5 318.5,479.4 317.8,483.9 319.1,479.6 318.4,484.7 319.7,480.3 319.1,484.8 320.5,479.5 319.9,484.3 321.1,480.2 320.6,484.7 321.8,480.3 321.4,484.3 322.4,480.7 322.0,484.8 323.1,481.0 322.7,485.0 323.8,480.5 323.5,485.1 324.5,480.9 324.2,484.9 325.1,481.1 324.9,484.9 325.7,482.0 325.5,486.1 326.5,480.8 326.4,485.1 327.1,481.4 327.0,485.9 327.9,480.8 327.8,485.1 328.6,481.0 328.5,485.1 329.2,481.6 329.1,486.3 329.9,481.1 329.8,486.7 330.6,481.1 330.6,486.4 331.3,481.4 331.3,486.2 332.0,481.1 332.0,485.9 332.7,481.8 332.7,486.6 333.4,482.1 333.4,486.2 334.0,482.3 334.2,485.6 334.7,482.5 334.8,486.2 335.5,481.6 335.5,486.7 336.2,481.5 336.2,486.3 336.9,481.7 337.0,485.9 337.5,482.0 337.6,486.9 338.3,481.4 338.3,487.0 338.9,482.0 339.0,486.8 339.6,482.1 339.8,486.1 340.3,482.4 340.5,486.6 341.0,483.1 341.2,486.8 341.8,481.2 341.9,487.1 342.4,482.4 342.6,486.5 343.1,482.1 343.3,487.2 343.8,482.9 344.0,486.8 344.6,482.1 344.7,486.7 345.3,481.9 345.4,486.9 346.0,481.6 346.1,486.9 346.7,481.7 346.8,487.1 347.4,481.8 347.5,487.3 348.0,482.9 348.2,487.2 348.7,483.0 348.9,487.3 349.5,482.0 349.6,487.3 350.2,482.1 350.3,486.8 350.9,482.2 351.0,486.6 351.6,482.5 351.7,487.2 352.3,482.3 352.4,486.8 353.0,482.2 353.2,486.5 353.7,482.1 353.8,486.8 354.4,482.1 354.5,487.3 355.1,482.3 355.2,487.4 355.8,482.0 355.9,487.3 356.5,482.6 356.6,487.4 357.2,482.3 357.4,486.8 357.8,482.6 358.1,486.6 358.5,482.8 358.8,487.0 359.2,482.3 359.5,487.0 359.9,482.2 360.2,488.3 360.6,482.5 360.9,487.3 361.3,482.5 361.6,487.0 362.0,482.9 362.3,486.7 362.7,482.7 363.0,487.9 363.4,482.4 363.7,487.4 364.1,482.3 364.4,486.8 364.8,481.9 365.1,487.7 365.5,483.0 365.8,487.2 366.2,483.0" stroke-width="1.4"/>
<path d="M246.2,397.3 246.6,397.3 247.0,397.3 247.3,397.3 247.7,397.3 248.0,397.3 248.4,397.3 248.7,397.3 249.1,397.3 249.4,397.3 249.8,397.3 250.1,397.3 250.5,397.3 250.8,397.3 251.2,397.4 251.5,397.3 251.9,397.3 252.2,397.3 252.6,397.3 252.9,397.3 253.3,397.3 253.6,397.3 254.0,397.3 254.3,397.3 254.7,397.3 255.0,397.3 255.4,397.3 255.7,397.2 256.1,397.3 256.4,397.3 256.8,397.3 257.2,397.3 257.5,397.3 257.9,397.3 258.2,397.3 258.6,397.3 258.9,397.3 259.3,397.3 259.7,397.3 260.0,397.2 260.4,397.3 260.7,397.3 261.1,397.3 261.4,397.3 261.8,397.4 262.1,397.3 262.5,397.4 262.8,397.3 263.1,397.3 263.5,397.3 263.8,397.3 264.1,397.2 264.4,397.2 264.7,397.0 265.0,396.9 265.3,396.6 265.7,396.5 265.9,396.2 266.3,396.0 266.5,395.7 266.9,395.6 267.1,395.4 267.5,395.3 267.8,395.0 268.1,394.9 268.4,394.7 268.8,394.6 269.1,394.3 269.4,394.2 269.7,394.0 270.1,393.9 270.4,393.8 270.7,393.7 271.0,393.6 271.4,393.7 271.7,393.6 272.0,393.7 272.4,393.6 272.8,393.8 273.2,393.8 273.5,394.0 273.9,394.0 274.2,394.2 274.6,394.2 274.8,394.5 275.2,394.5 275.3,394.8 275.6,394.8 275.8,395.1 276.1,395.2 276.2,395.6 276.6,395.7 276.5,396.2 277.0,396.3 276.9,396.8 277.3,396.9 277.2,397.4 277.6,397.7 277.5,398.1 278.0,398.3 277.9,398.8 278.3,399.1 278.1,399.6 278.6,399.8 278.4,400.3 278.9,400.5 278.7,400.9 279.2,401.1 279.0,401.6 279.4,401.8 279.1,402.2 279.6,402.4 279.4,402.9 279.9,403.0 279.6,403.5 280.2,403.7 279.8,404.2 280.5,404.3 280.0,404.9 280.6,405.0 280.3,405.5 280.9,405.7 280.4,406.2 281.1,406.4 280.6,406.9 281.3,407.1 280.8,407.6 281.5,407.7 280.9,408.2 281.7,408.4 281.2,408.9 282.0,409.1 281.3,409.6 281.9,409.8 281.4,410.3 282.2,410.5 281.7,411.0 282.4,411.2 281.7,411.7 282.7,411.8 281.9,412.4 282.8,412.5 282.1,413.0 283.0,413.2 282.3,413.7 283.1,413.9 282.5,414.4 283.2,414.6 282.6,415.1 283.4,415.3 282.7,415.8 283.6,415.9 282.9,416.4 283.7,416.7 283.1,417.1 283.9,417.3 283.1,417.8 284.1,418.0 283.3,418.5 284.1,418.7 283.3,419.2 284.2,419.4 283.5,419.9 284.5,420.1 283.6,420.6 284.5,420.8 283.7,421.3 284.6,421.5 283.6,422.0 284.8,422.2 284.1,422.7 284.9,422.9 284.1,423.4 285.1,423.6 284.1,424.1 285.2,424.3 284.4,424.8 285.4,424.9 284.4,425.5 285.5,425.6 284.5,426.2 285.8,426.3 284.9,426.8 285.9,427.0 284.9,427.5 285.9,427.7 284.9,428.3 286.2,428.3 285.2,428.9 286.2,429.0 285.3,429.6 286.5,429.7 285.5,430.3 286.5,430.4 285.9,430.9 286.8,431.0 285.9,431.7 287.1,431.6 286.1,432.3 287.4,432.2 286.3,433.0 287.6,432.9 286.5,433.7 288.0,433.5 286.8,434.3 288.2,434.1 287.1,435.0 288.3,434.8 287.5,435.6 288.6,435.5 287.7,436.3 289.2,436.0 287.9,436.9 289.4,436.7 288.4,437.5 289.5,437.4 288.6,438.2 289.8,438.1 288.9,438.8 290.2,438.7 289.0,439.5 290.5,439.4 289.1,440.2 290.5,440.1 289.0,441.0 290.9,440.7 289.2,441.7 291.4,441.3 289.4,442.4 291.6,442.0 289.7,443.0 291.9,442.7 289.8,443.7 291.8,443.4 290.1,444.4 292.4,443.9 290.2,445.1 292.8,444.5 290.4,445.8 292.9,445.2 290.9,446.4 293.2,445.8 290.9,447.2 293.7,446.2 291.3,447.8 293.7,446.9 291.7,448.4 294.2,447.4 291.6,449.3 294.8,447.8 292.1,449.9 294.8,448.6 292.6,450.5 295.7,448.7 292.9,451.2 295.8,449.5 293.5,451.6 295.9,450.3 294.0,452.2 296.8,450.4 294.3,453.0 296.9,451.2 294.8,453.5 297.7,451.4 295.3,454.1 298.1,452.0 295.6,454.8 298.7,452.4 296.4,455.1 299.2,452.8 296.6,455.9 299.0,453.9 297.4,456.1 300.3,453.4 297.8,456.9 300.6,453.9 298.7,457.0 300.9,454.5 299.1,457.7 301.7,454.6 299.9,457.9 302.3,454.9 300.1,458.8 303.3,454.6 300.8,459.1 303.8,455.2 301.3,459.6 303.9,456.4 302.1,459.6 304.7,456.7 302.6,459.9 305.2,457.3 302.3,461.2 306.2,457.4 303.3,461.1 306.8,457.8 303.8,461.6 307.1,458.6 304.5,461.9 307.6,459.1 305.0,462.5 308.2,459.3 305.5,463.1 308.5,459.9 305.7,464.1 309.0,460.2 306.9,463.8 309.3,460.6 307.5,464.6 309.7,461.1 308.0,465.1 310.5,461.0 308.9,464.9 311.1,461.2 309.3,465.6 311.7,461.4 310.1,465.5 312.1,462.0 310.5,466.5 312.9,462.0 311.2,466.6 313.3,462.7 312.2,466.3 314.2,462.3 312.7,466.8 314.8,462.5 313.3,467.4 315.4,463.0 313.9,467.9 316.1,463.0 314.7,467.8 316.6,463.7 315.4,468.1 317.2,464.0 316.3,467.8 317.8,464.3 316.6,469.2 318.9,463.2 317.3,469.4 319.3,464.1 318.2,469.1 319.9,464.7 319.0,468.9 320.6,464.7 319.7,469.2 321.1,465.6 320.2,470.1 321.9,465.1 321.0,470.1 322.7,465.0 321.6,470.4 323.3,465.5 322.3,470.7 323.9,465.8 323.1,470.6 324.6,465.9 323.9,470.4 325.2,466.3 324.4,471.5 325.9,466.4 325.4,470.6 326.5,466.9 325.9,471.5 327.4,465.9 326.8,470.9 327.9,466.6 327.4,471.3 328.6,466.8 328.0,472.1 329.2,467.3 328.6,472.5 329.9,466.9 329.4,472.0 330.6,467.3 330.2,471.8 331.3,467.3 330.9,472.1 332.1,466.5 331.6,471.9 332.6,467.6 332.3,472.3 333.3,468.0 333.0,472.1 334.0,468.0 333.6,473.0 334.8,467.0 334.4,472.6 335.4,467.3 335.2,472.2 336.1,467.7 335.8,472.9 336.8,467.8 336.5,473.3 337.4,468.1 337.3,472.4 338.2,467.8 338.0,472.0 338.8,468.2 338.6,473.1 339.5,468.3 339.4,472.8 340.2,468.7 340.1,472.5 340.9,468.5 340.8,473.3 341.6,468.2 341.4,474.0 342.3,468.9 342.1,474.3 343.0,468.3 342.8,474.4 343.6,469.5 343.6,473.6 344.4,469.1 344.3,473.4 345.1,468.5 345.1,472.9 345.8,468.7 345.7,473.9 346.5,468.7 346.5,472.9 347.2,468.9 347.1,474.2 347.9,469.3 347.8,473.5 348.7,468.5 348.5,474.0 349.3,469.3 349.1,474.6 350.0,469.3 349.9,474.2 350.7,469.3 350.6,474.0 351.4,469.3 351.2,475.0 352.1,469.5 352.0,474.6 352.8,469.5 352.7,474.9 353.5,468.8 353.4,474.3 354.2,469.1 354.1,474.4 354.9,469.5 354.8,475.0 355.5,469.9 355.5,474.1 356.3,469.3 356.2,474.2 356.9,470.1 356.9,474.8 357.6,470.5 357.7,474.3 358.3,470.0 358.3,474.8 359.0,470.3 359.1,474.6 359.8,469.4 359.7,474.8 360.4,470.4 360.5,474.8 361.1,470.3 361.2,474.7 361.8,470.2 361.8,475.2 362.5,470.9 362.6,474.6 363.2,470.6 363.2,475.4 363.9,470.4 364.0,475.1 364.6,470.1 364.7,475.5 365.3,470.2 365.4,474.9 366.0,470.7 366.1,475.7" stroke-width="1.4"/>
<text x="345.3" y="453.5" font-size="13.3" text-anchor="start" >P1</text>
<text x="316.4" y="507.3" font-size="13.3" text-anchor="start" >Control</text>
<text x="-1.2" y="552" font-size="17.5" text-anchor="start" >D</text>
<text x="32.3" y="580.8" font-size="12" text-anchor="end" >0</text>
<text x="34" y="680.2" font-size="12" text-anchor="end" >70</text>
<path d="M37.6,574.8 H47 V675.9 H37.6 V673.80 H44.30 V576.90 H37.6 Z" class="f"/>
<text transform="translate(28.9,624.5) rotate(-90)" font-size="9.6" text-anchor="middle">Aggregation (%)</text>
<path d="M76.5,674.8 V678.3 H93.6 V674.8" class="sb"/>
<text x="85.6" y="691.6" font-size="11" text-anchor="middle" >60s</text>
<text x="159.6" y="554.2" font-size="12" text-anchor="middle" >U46619 10 µM</text>
<path d="M92,584.8 L98.8,584.8 L95.4,577.2 Z" class="f"/>
<path d="M95.4,574.0 95.8,573.9 96.1,573.9 96.5,573.9 96.8,573.9 97.2,573.9 97.5,573.9 97.9,573.9 98.2,573.9 98.6,573.9 98.9,573.9 99.3,573.8 99.6,573.9 100.0,573.9 100.3,573.9 100.7,573.9 101.1,573.9 101.5,573.8 101.9,573.9 102.3,573.8 102.7,573.9 103.0,573.8 103.3,573.9 103.6,573.8 103.8,573.8 103.9,573.6 104.1,573.3 104.2,572.9 104.3,572.5 104.4,572.1 104.6,571.8 104.8,571.5 105.2,571.3 105.5,571.0 105.7,571.1 105.9,571.1 105.9,571.4 106.1,571.7 106.2,572.1 106.4,572.5 106.3,573.0 106.6,573.3 106.4,573.8 106.7,574.1 106.5,574.5 106.9,574.8 106.6,575.2 107.0,575.5 106.8,575.9 107.1,576.2 106.9,576.6 107.2,576.9 106.9,577.3 107.3,577.6 107.1,577.9 107.4,578.3 107.1,578.6 107.6,579.0 107.2,579.3 107.6,579.7 107.2,580.1 107.7,580.4 107.4,580.8 107.7,581.1 107.4,581.5 107.8,581.8 107.5,582.2 108.0,582.5 107.5,582.9 108.0,583.2 107.6,583.6 108.1,583.9 107.8,584.3 108.2,584.5 107.8,585.0 108.3,585.2 107.9,585.7 108.4,585.9 108.1,586.3 108.5,586.6 108.2,587.0 108.7,587.3 108.2,587.7 108.8,588.0 108.4,588.4 108.9,588.7 108.5,589.1 109.0,589.4 108.5,589.8 109.2,590.1 108.7,590.5 109.2,590.8 108.9,591.2 109.3,591.5 109.0,591.9 109.5,592.2 109.1,592.6 109.6,592.8 109.2,593.3 109.8,593.5 109.3,594.0 109.8,594.2 109.5,594.7 109.9,594.9 109.5,595.4 110.1,595.6 109.7,596.0 110.2,596.3 109.8,596.7 110.4,597.0 109.9,597.4 110.6,597.7 110.1,598.1 110.7,598.4 110.1,598.8 110.8,599.1 110.3,599.5 110.9,599.7 110.5,600.2 111.0,600.4 110.6,600.9 111.2,601.1 110.7,601.6 111.4,601.8 110.9,602.3 111.5,602.5 111.0,603.0 111.6,603.2 111.2,603.6 111.7,603.9 111.3,604.3 111.9,604.6 111.5,605.0 112.0,605.3 111.6,605.7 112.2,605.9 111.7,606.4 112.2,606.6 111.8,607.1 112.4,607.3 112.0,607.8 112.6,608.0 112.1,608.5 112.8,608.7 112.3,609.1 112.8,609.4 112.4,609.8 112.9,610.1 112.6,610.5 113.1,610.8 112.7,611.2 113.2,611.5 112.8,611.9 113.4,612.1 112.9,612.6 113.4,612.9 113.0,613.3 113.6,613.6 113.1,614.0 113.7,614.2 113.3,614.7 113.9,614.9 113.4,615.4 114.0,615.6 113.4,616.1 114.0,616.3 113.5,616.8 114.2,617.0 113.6,617.5 114.3,617.7 113.8,618.2 114.4,618.4 113.9,618.9 114.6,619.1 114.0,619.6 114.8,619.8 114.2,620.2 114.9,620.4 114.3,620.9 115.0,621.1 114.5,621.6 115.2,621.8 114.7,622.3 115.3,622.5 114.9,623.0 115.7,623.2 115.0,623.7 115.8,623.9 115.3,624.5 116.1,624.6 115.3,625.2 116.2,625.3 115.7,625.9 116.6,626.0 115.9,626.6 116.8,626.7 116.3,627.3 117.1,627.4 116.4,628.1 117.5,628.0 116.8,628.7 117.7,628.7 117.0,629.4 118.2,629.2 117.4,630.0 118.5,629.8 117.6,630.7 119.0,630.2 118.1,631.2 119.2,630.8 118.3,631.9 119.4,631.4 118.8,632.4 120.0,631.6 119.2,633.0 120.4,631.9 119.9,633.3 121.0,632.2 120.7,633.6 121.6,632.5 121.3,634.0 122.4,632.7 121.9,634.3 123.1,633.0 122.3,634.9 123.8,633.3 122.7,635.5 124.3,633.8 123.3,635.9 125.0,634.2 123.9,636.2 125.5,634.6 124.5,636.7 126.2,634.8 125.0,637.3 126.7,635.1 125.7,637.5 127.4,635.2 126.3,638.1 128.0,635.5 126.9,638.5 128.6,635.9 127.5,638.9 129.4,635.8 128.2,639.1 129.9,636.4 128.8,639.5 130.7,636.3 129.5,639.8 131.0,637.1 130.1,640.3 132.0,636.5 130.9,640.2 132.4,637.3 131.5,640.7 132.9,638.0 132.0,641.3 133.7,638.0 132.5,641.7 134.8,637.1 133.3,641.6 135.2,638.3 133.9,641.8 135.7,638.8 134.6,642.0 136.6,638.7 134.9,642.8 137.1,639.3 135.7,642.8 137.9,639.2 136.2,643.5 138.5,639.6 136.8,643.8 139.3,639.5 137.4,644.3 139.4,640.8 138.3,644.2 140.3,640.2 138.9,644.8 140.8,640.7 139.6,645.1 141.4,641.0 140.4,645.2 142.2,640.7 141.2,644.8 142.7,641.5 141.8,645.5 143.5,641.3 142.6,645.3 144.0,641.7 143.2,645.6 144.7,642.0 143.7,646.7 145.3,642.3 144.6,646.2 146.1,642.0 145.2,646.4 146.9,641.8 145.9,646.8 147.2,643.1 146.8,646.4 148.1,642.6 147.5,646.4 148.7,643.0 147.9,647.6 149.4,642.9 148.9,646.8 150.0,643.5 149.3,648.2 150.7,643.8 150.1,647.6 151.4,643.8 150.7,648.2 152.0,644.0 151.6,647.7 152.9,643.4 152.3,647.5 153.5,644.0 152.9,648.3 154.2,643.9 153.6,648.4 154.8,644.1 154.4,648.0 155.4,644.9 154.9,648.9 156.1,644.8 155.6,649.4 156.7,645.2 156.3,649.5 157.6,644.5 157.1,649.0 158.2,645.0 157.7,649.6 158.9,645.3 158.4,649.7 159.6,645.2 159.1,650.1 160.2,645.7 159.8,650.0 161.0,645.2 160.6,649.7 161.7,645.3 161.3,649.7 162.3,645.9 162.0,649.9 163.2,644.6 162.7,649.9 163.7,645.6 163.3,650.6 164.4,645.7 164.0,650.9 165.1,645.8 164.8,650.2 165.8,646.2 165.4,650.9 166.4,646.3 166.2,650.6 167.2,646.3 166.9,650.9 167.8,646.7 167.5,651.7 168.5,646.6 168.2,651.6 169.3,646.0 168.9,651.7 169.9,646.7 169.7,651.3 170.7,646.2 170.3,651.6 171.3,646.5 171.0,652.1 172.0,647.1 171.8,651.4 172.8,645.8 172.5,651.3 173.4,647.0 173.2,651.7 174.1,646.7 173.9,651.9 174.9,646.5 174.5,652.4 175.5,646.6 175.2,652.6 176.3,646.4 176.0,651.8 176.9,647.0 176.6,652.9 177.7,646.3 177.4,652.0 178.3,647.2 178.0,652.8 179.0,647.0 178.6,653.4 179.8,646.8 179.4,652.9 180.4,647.6 180.0,653.7 181.1,647.1 180.7,653.7 181.9,646.5 181.4,654.0 182.6,647.2 182.2,652.8 183.2,647.5 182.8,653.7 183.9,648.2 183.5,653.7 184.6,648.3 184.3,653.0 185.3,647.8 184.8,654.6 186.0,648.1 185.7,653.7 186.7,647.9 186.4,653.7 187.4,648.1 187.0,654.6 188.0,648.9 187.6,655.3 188.8,648.3 188.5,653.8 189.5,648.1 189.2,654.3 190.1,649.0 189.9,654.0 190.9,647.8 190.6,654.7 191.5,648.5 191.3,654.7 192.1,649.4 192.1,654.5 192.9,647.9 192.8,654.4 193.5,649.0 193.5,655.3 194.2,648.7 194.2,655.6 194.9,647.8 194.9,655.3 195.6,648.9 195.7,655.1 196.3,647.9 196.4,655.1 197.0,647.8 197.1,655.6 197.6,648.6 197.8,654.9 198.3,649.1 198.5,655.2" stroke-width="1.5"/>
<path d="M95.4,573.9 95.8,573.8 96.1,574.0 96.5,573.8 96.8,573.9 97.2,573.9 97.5,573.9 97.9,573.9 98.2,573.9 98.6,573.9 98.9,573.9 99.3,573.8 99.6,574.0 100.0,573.8 100.3,573.9 100.7,573.9 101.1,573.9 101.5,573.8 101.9,573.9 102.3,573.8 102.7,573.9 103.0,573.8 103.3,573.9 103.6,573.8 103.8,573.8 103.9,573.6 104.1,573.3 104.2,572.9 104.3,572.5 104.4,572.1 104.6,571.8 104.8,571.5 105.2,571.3 105.5,571.0 105.6,571.1 105.8,571.1 105.8,571.4 106.1,571.7 105.9,572.1 106.2,572.5 106.1,573.0 106.3,573.4 106.1,573.9 106.4,574.2 106.2,574.6 106.5,574.9 106.3,575.3 106.6,575.6 106.4,575.9 106.8,576.3 106.5,576.6 106.8,577.0 106.5,577.3 106.8,577.7 106.6,578.0 106.9,578.4 106.5,578.7 107.0,579.1 106.6,579.4 107.0,579.8 106.7,580.1 107.1,580.5 106.7,580.9 107.2,581.2 106.8,581.6 107.2,581.9 106.8,582.3 107.3,582.6 107.0,583.0 107.3,583.3 106.9,583.7 107.4,584.0 107.0,584.4 107.6,584.6 107.1,585.1 107.6,585.3 107.2,585.8 107.7,586.0 107.2,586.5 107.8,586.7 107.4,587.1 107.8,587.4 107.4,587.8 108.0,588.1 107.6,588.5 108.1,588.8 107.7,589.2 108.2,589.5 107.8,589.9 108.4,590.2 108.0,590.6 108.4,590.9 108.0,591.3 108.5,591.6 108.1,592.0 108.6,592.3 108.3,592.7 108.7,593.0 108.3,593.4 108.9,593.7 108.5,594.1 109.0,594.3 108.6,594.8 109.1,595.0 108.7,595.5 109.2,595.7 108.9,596.2 109.4,596.4 108.9,596.9 109.6,597.1 109.1,597.5 109.6,597.8 109.2,598.2 109.7,598.5 109.3,598.9 109.9,599.2 109.4,599.6 110.0,599.9 109.6,600.3 110.1,600.6 109.7,601.0 110.3,601.3 109.9,601.7 110.4,601.9 110.0,602.4 110.5,602.6 110.2,603.0 110.7,603.3 110.3,603.8 110.8,604.0 110.4,604.4 110.9,604.7 110.5,605.1 111.1,605.4 110.6,605.8 111.3,606.1 110.8,606.5 111.3,606.8 111.0,607.2 111.6,607.4 111.0,607.9 111.6,608.1 111.3,608.6 111.8,608.8 111.4,609.3 112.0,609.5 111.6,609.9 112.1,610.2 111.7,610.6 112.3,610.9 111.8,611.3 112.4,611.6 111.8,612.0 112.5,612.3 112.2,612.7 112.6,613.0 112.2,613.4 112.8,613.6 112.4,614.1 112.8,614.3 112.4,614.8 113.0,615.0 112.5,615.5 113.1,615.7 112.6,616.2 113.2,616.4 112.8,616.9 113.4,617.1 112.9,617.5 113.4,617.8 113.0,618.2 113.7,618.5 113.2,618.9 113.9,619.1 113.3,619.6 114.0,619.8 113.5,620.3 114.1,620.5 113.5,621.0 114.3,621.2 113.8,621.7 114.5,621.8 113.9,622.4 114.7,622.5 114.1,623.0 114.8,623.2 114.3,623.7 115.0,623.9 114.5,624.4 115.4,624.5 114.8,625.0 115.4,625.2 115.0,625.7 115.7,625.8 115.3,626.4 116.1,626.4 115.4,627.1 116.2,627.1 115.7,627.7 116.4,627.8 115.9,628.4 116.8,628.4 116.1,629.1 117.1,629.1 116.3,629.7 117.4,629.7 116.7,630.4 117.5,630.4 116.9,631.0 117.8,631.1 117.0,631.7 118.2,631.7 117.3,632.4 118.2,632.4 117.7,633.0 118.5,633.0 117.7,633.7 118.9,633.6 118.0,634.4 119.1,634.3 118.2,635.1 119.3,635.0 118.5,635.7 119.7,635.6 118.5,636.5 120.0,636.2 119.1,637.0 120.4,636.8 119.2,637.7 120.5,637.5 119.7,638.3 120.9,638.1 120.0,638.9 121.1,638.7 120.3,639.6 121.5,639.3 120.6,640.2 122.0,639.8 121.0,640.8 122.4,640.4 121.3,641.5 122.7,641.0 121.6,642.1 123.1,641.6 122.1,642.6 123.8,642.0 122.2,643.4 124.0,642.7 122.6,644.0 124.4,643.3 123.0,644.6 124.8,643.8 123.2,645.3 125.4,644.3 123.8,645.7 125.5,645.1 123.7,646.7 125.9,645.6 124.0,647.4 126.7,645.8 124.8,647.7 127.4,646.0 125.1,648.4 127.4,646.9 125.8,648.8 128.0,647.2 126.3,649.4 128.6,647.5 126.3,650.5 129.0,648.0 127.0,650.8 129.6,648.4 127.9,650.9 129.9,649.1 128.3,651.6 130.6,649.3 129.1,651.7 131.3,649.6 129.2,652.7 132.1,649.7 130.1,652.8 132.0,650.9 130.7,653.1 132.7,651.1 131.1,653.8 133.4,651.2 131.6,654.3 133.8,651.9 132.2,654.8 134.4,652.1 132.8,655.2 135.0,652.5 133.4,655.7 135.9,652.2 134.1,655.8 136.3,652.8 134.7,656.3 136.8,653.4 135.2,656.9 137.3,653.9 135.8,657.3 138.1,653.8 136.4,657.8 138.3,655.0 136.8,658.6 139.4,654.1 137.5,658.8 139.9,654.6 138.3,659.0 140.2,655.5 139.2,658.8 141.1,655.2 139.7,659.5 141.5,656.1 140.5,659.5 142.2,656.1 141.1,659.7 142.6,656.9 141.6,660.4 143.5,656.5 142.5,660.2 144.1,657.0 143.2,660.4 144.7,657.1 143.7,661.0 145.4,657.3 144.5,660.8 146.1,657.4 145.2,661.0 146.6,658.0 145.9,661.5 147.4,657.8 146.6,661.4 147.9,658.6 147.1,662.3 148.6,658.5 148.0,661.8 149.4,658.3 148.5,662.6 150.0,658.9 149.3,662.5 150.7,658.8 150.1,662.3 151.2,659.4 150.8,662.6 152.1,658.7 151.5,662.8 152.6,659.7 152.2,663.0 153.2,660.0 152.8,663.6 154.0,659.5 153.6,663.2 154.7,659.5 154.1,664.1 155.4,659.5 154.9,663.6 155.9,660.4 155.7,663.4 156.6,660.6 156.4,663.6 157.3,660.7 157.1,663.9 158.1,660.1 157.7,664.2 158.8,659.9 158.5,664.2 159.4,660.4 159.0,665.0 160.0,661.0 159.8,664.6 160.9,660.4 160.5,664.8 161.4,661.2 161.2,665.2 162.1,661.8 162.0,664.5 162.9,660.7 162.7,664.7 163.6,661.0 163.3,665.0 164.2,661.5 164.0,665.0 165.0,661.4 164.7,665.4 165.6,662.2 165.4,665.5 166.3,661.7 166.1,665.6 167.1,661.6 166.9,665.2 167.7,662.3 167.5,665.5 168.4,662.2 168.1,666.2 169.0,662.7 168.8,666.5 169.8,662.3 169.6,665.7 170.4,662.7 170.3,666.2 171.2,662.4 171.0,665.9 171.8,662.7 171.7,666.0 172.7,661.9 172.4,666.2 173.3,662.4 173.0,667.0 173.9,663.2 173.8,666.5 174.7,662.8 174.4,667.0 175.3,663.1 175.1,667.0 176.0,663.6 175.9,666.9 176.7,663.6 176.6,667.1 177.4,663.3 177.2,667.4 178.1,663.7 177.9,667.6 178.8,663.0 178.7,667.3 179.4,663.8 179.4,667.2 180.1,664.1 180.0,667.8 180.8,664.1 180.8,667.4 181.6,663.4 181.4,668.0 182.2,664.1 182.2,667.8 182.9,664.4 182.8,668.1 183.6,664.1 183.5,668.6 184.3,664.3 184.2,668.3 185.0,664.2 184.9,668.3 185.7,664.0 185.7,667.9 186.4,664.6 186.4,668.2 187.1,664.4 187.1,667.9 187.8,664.8 187.8,668.1 188.5,664.5 188.5,668.2 189.1,665.2 189.2,668.6 189.8,665.4 189.9,668.0 190.6,664.8 190.5,669.2 191.2,665.6 191.3,668.2 191.9,665.0 192.0,668.2 192.6,664.9 192.7,668.4 193.3,665.0 193.4,668.5 194.0,665.3 194.1,669.1 194.7,664.8 194.8,669.3 195.4,665.2 195.6,668.3 196.1,665.3" stroke-width="1.5"/>
<text x="180.3" y="624.1" font-size="13.3" text-anchor="start" >P2</text>
<text x="150.0" y="690.3" font-size="13.3" text-anchor="start" >Control</text>
<text x="306" y="554.2" font-size="12" text-anchor="middle" >U46619 1 µM</text>
<path d="M240.2,587.9 L246.8,587.9 L243.5,579.7 Z" class="f"/>
<path d="M242.6,576.3 243.0,576.3 243.3,576.3 243.7,576.3 244.1,576.3 244.5,576.3 244.8,576.3 245.2,576.3 245.6,576.3 245.9,576.2 246.3,576.2 246.7,576.2 247.1,576.2 247.4,576.2 247.8,576.2 248.2,576.2 248.5,576.2 248.9,576.2 249.3,576.2 249.7,576.1 250.0,576.1 250.4,576.1 250.8,576.1 251.1,576.1 251.5,576.1 251.9,576.1 252.3,576.0 252.6,576.0 253.0,576.0" stroke-width="1.0"/>
<path d="M252.8,576.0 253.1,575.8 253.4,575.6 253.7,575.4 254.0,575.2 254.3,575.0 254.6,574.8 255.0,574.7 255.2,574.6 255.4,574.6 255.6,574.8 255.8,574.9 255.9,575.2 256.0,575.4 256.2,575.7 256.3,576.1 256.4,576.5 256.5,576.9 256.6,577.3 256.7,577.7 256.8,578.2 257.0,578.6 257.1,579.0 257.2,579.4 257.3,579.8 257.5,580.2 257.6,580.5 257.7,580.8 257.9,581.2 258.0,581.5 258.1,581.8 258.3,582.2 258.4,582.6 258.6,582.9 258.7,583.2 258.9,583.6 259.0,583.9 259.2,584.2 259.4,584.5 259.5,584.7 259.7,585.0 260.0,585.2 260.2,585.4 260.5,585.6 260.8,585.8 261.1,586.0 261.5,586.2 261.8,586.4 262.1,586.5 262.5,586.5 262.7,586.5 263.0,586.4 263.3,586.3 263.5,586.1 263.8,585.9 264.0,585.6 264.3,585.3 264.5,585.0 264.8,584.7 265.0,584.4 265.3,584.1 265.5,583.7 265.7,583.4 266.0,583.1 266.2,582.8 266.4,582.6 266.6,582.3 266.9,582.0 267.1,581.7 267.3,581.4 267.5,581.1 267.7,580.8 267.9,580.5 268.1,580.2 268.3,579.9 268.4,579.6 268.6,579.3 268.8,579.0 269.0,578.7 269.2,578.4 269.4,578.1 269.6,577.8 269.8,577.5 270.1,577.2 270.3,577.0 270.5,576.7 270.7,576.5 271.0,576.3 271.2,576.0 271.5,575.8 271.7,575.6 272.0,575.4 272.3,575.2 272.5,575.0 272.8,574.8 273.1,574.6 273.4,574.4 273.7,574.2 274.0,574.0 274.3,573.9 274.6,573.7 275.0,573.5 275.3,573.3 275.6,573.2 275.9,573.0 276.3,572.8 276.6,572.7 276.9,572.5 277.3,572.4 277.6,572.3 277.9,572.1 278.3,572.0 278.6,571.9 278.9,571.8 279.3,571.7 279.6,571.6 279.9,571.5 280.3,571.4 280.6,571.4 280.9,571.3 281.3,571.2 281.6,571.2 281.9,571.1 282.3,571.0 282.6,571.0 283.0,570.9 283.3,570.9 283.6,570.8 284.0,570.7 284.3,570.7 284.7,570.6 285.0,570.6 285.4,570.5 285.7,570.5 286.1,570.4 286.4,570.4 286.8,570.4 287.2,570.3 287.5,570.3 287.9,570.2 288.2,570.2 288.6,570.1 288.9,570.1 289.3,570.1 289.6,570.0 290.0,570.0 290.3,570.0 290.7,569.9 291.0,569.9 291.4,569.9 291.7,569.8 292.1,569.8 292.4,569.8 292.8,569.7 293.1,569.7 293.5,569.7 293.8,569.6 294.2,569.6 294.5,569.6 294.9,569.5 295.2,569.5 295.6,569.5 295.9,569.4 296.3,569.4 296.6,569.4 297.0,569.3 297.3,569.3 297.7,569.3 298.0,569.2 298.4,569.2 298.7,569.2 299.1,569.1 299.4,569.1 299.8,569.1 300.1,569.1 300.5,569.0 300.8,569.0 301.2,569.0 301.5,568.9 301.9,568.9 302.2,568.9 302.6,568.9 302.9,568.8 303.3,568.8 303.6,568.8 304.0,568.8 304.3,568.7 304.7,568.7 305.0,568.7 305.4,568.7 305.8,568.7 306.1,568.6 306.5,568.6 306.8,568.6 307.2,568.6 307.5,568.6 307.9,568.6 308.2,568.6 308.6,568.5 308.9,568.5 309.3,568.5 309.6,568.5 310.0,568.5 310.3,568.5 310.7,568.5 311.0,568.5 311.4,568.5 311.7,568.5 312.1,568.5 312.4,568.4 312.8,568.4 313.1,568.4 313.5,568.4 313.8,568.4 314.2,568.4 314.5,568.4 314.9,568.4 315.2,568.4 315.6,568.4 315.9,568.4 316.3,568.4 316.6,568.4 317.0,568.4 317.3,568.4 317.7,568.4 318.0,568.3 318.4,568.3 318.7,568.3 319.1,568.3 319.4,568.3 319.8,568.3 320.1,568.3 320.5,568.3 320.8,568.3 321.2,568.3 321.5,568.3 321.9,568.3 322.2,568.3 322.6,568.3 323.0,568.3 323.3,568.3 323.7,568.3 324.0,568.3 324.4,568.3 324.7,568.3 325.1,568.3 325.4,568.3 325.8,568.3 326.1,568.3 326.5,568.3 326.8,568.3 327.2,568.3 327.5,568.3 327.9,568.3 328.2,568.3 328.6,568.3 328.9,568.3 329.3,568.3 329.6,568.3 330.0,568.3 330.3,568.2 330.7,568.2 331.0,568.2 331.4,568.2 331.7,568.2 332.1,568.2 332.4,568.2 332.8,568.2 333.1,568.2 333.5,568.2 333.8,568.2 334.2,568.2 334.5,568.2 334.9,568.2 335.2,568.2 335.6,568.2 335.9,568.2 336.3,568.2 336.6,568.2 337.0,568.2 337.4,568.2 337.7,568.2 338.1,568.2 338.4,568.2 338.8,568.2 339.1,568.2 339.5,568.2 339.8,568.2 340.2,568.2 340.5,568.2 340.9,568.2 341.2,568.2 341.6,568.2 341.9,568.2 342.3,568.2 342.6,568.2 343.0,568.2 343.3,568.2 343.7,568.2 344.0,568.2 344.4,568.2 344.7,568.2 345.1,568.2 345.4,568.2 345.8,568.2 346.1,568.2 346.5,568.2 346.8,568.2 347.2,568.2 347.5,568.2 347.9,568.2 348.2,568.2 348.6,568.2 348.9,568.2 349.3,568.2 349.6,568.2 350.0,568.2 350.3,568.2 350.7,568.2 351.0,568.2 351.4,568.2 351.7,568.2" stroke-width="1.3"/>
<path d="M252.8,576.0 253.1,575.7 253.5,575.5 253.7,575.2 254.0,575.2 254.2,575.2 254.2,575.4 254.4,575.6 254.4,576.0 254.6,576.3 254.6,576.8 254.8,577.2 254.8,577.6 254.9,578.1 254.9,578.5 255.0,578.9 255.0,579.2 255.1,579.6 255.1,579.9 255.2,580.3 255.2,580.6 255.4,581.0 255.3,581.3 255.4,581.6 255.4,582.0 255.5,582.3 255.4,582.7 255.6,583.0 255.5,583.4 255.7,583.7 255.6,584.1 255.8,584.4 255.7,584.8 255.8,585.1 255.8,585.5 255.9,585.8 255.8,586.2 256.0,586.5 255.9,586.9 256.1,587.2 255.9,587.6 256.1,587.9 256.0,588.3 256.2,588.6 256.1,589.0 256.2,589.3 256.1,589.7 256.3,590.0 256.1,590.4 256.4,590.7 256.2,591.1 256.4,591.4 256.3,591.8 256.5,592.1 256.3,592.5 256.5,592.8 256.4,593.2 256.6,593.5 256.4,593.9 256.7,594.2 256.5,594.6 256.7,594.9 256.5,595.3 256.8,595.6 256.6,596.0 256.8,596.3 256.6,596.7 256.9,597.0 256.7,597.4 257.0,597.7 256.8,598.1 257.1,598.4 256.9,598.8 257.1,599.1 256.9,599.5 257.2,599.8 257.0,600.2 257.3,600.5 257.1,600.9 257.4,601.2 257.2,601.6 257.5,601.9 257.2,602.3 257.6,602.6 257.3,603.0 257.6,603.3 257.4,603.7 257.7,604.0 257.4,604.4 257.8,604.7 257.6,605.1 257.9,605.4 257.6,605.8 257.9,606.1 257.7,606.5 258.0,606.8 257.7,607.2 258.1,607.5 257.8,607.9 258.2,608.2 257.9,608.6 258.3,608.9 258.1,609.3 258.4,609.6 258.1,610.0 258.5,610.3 258.2,610.7 258.6,611.0 258.2,611.4 258.7,611.7 258.3,612.1 258.7,612.4 258.4,612.8 258.8,613.1 258.5,613.5 259.0,613.8 258.6,614.2 259.0,614.5 258.7,614.9 259.2,615.2 258.8,615.6 259.2,615.9 258.9,616.3 259.2,616.6 259.0,617.0 259.4,617.3 259.1,617.7 259.6,617.9 259.1,618.4 259.6,618.6 259.3,619.0 259.8,619.3 259.5,619.7 259.9,620.0 259.6,620.4 260.1,620.7 259.6,621.1 260.1,621.4 259.8,621.8 260.2,622.1 259.9,622.5 260.4,622.8 260.1,623.2 260.5,623.5 260.1,623.9 260.7,624.1 260.3,624.6 260.8,624.8 260.4,625.3 261.0,625.5 260.5,626.0 261.1,626.2 260.8,626.6 261.3,626.9 260.9,627.3 261.5,627.6 261.0,628.0 261.5,628.3 261.1,628.7 261.8,628.9 261.4,629.4 261.9,629.6 261.5,630.1 262.0,630.3 261.7,630.8 262.2,631.0 261.9,631.4 262.4,631.7 262.0,632.1 262.5,632.4 262.2,632.8 262.7,633.0 262.4,633.5 262.9,633.7 262.5,634.2 263.1,634.4 262.7,634.9 263.3,635.1 262.9,635.5 263.5,635.7 263.0,636.2 263.7,636.4 263.3,636.9 263.8,637.1 263.4,637.6 264.0,637.8 263.7,638.3 264.3,638.5 263.8,639.0 264.5,639.2 264.1,639.7 264.7,639.8 264.3,640.3 265.0,640.5 264.5,641.0 265.2,641.1 264.8,641.7 265.4,641.8 264.9,642.4 265.7,642.4 265.2,643.0 265.9,643.1 265.5,643.6 266.3,643.6 265.8,644.3 266.5,644.3 266.0,644.9 266.8,644.9 266.2,645.6 267.2,645.5 266.7,646.2 267.7,646.0 267.1,646.8 268.0,646.6 267.4,647.4 268.4,647.2 267.7,648.1 268.8,647.7 268.2,648.6 269.3,648.2 268.4,649.4 269.7,648.9 269.0,649.9 270.3,649.2 269.3,650.6 270.8,649.8 270.1,650.9 271.2,650.2 270.2,651.8 271.7,650.7 271.1,651.9 272.3,651.0 271.3,652.6 272.7,651.5 271.9,653.0 273.3,651.8 272.5,653.4 273.8,652.3 272.9,654.2 274.5,652.5 273.8,654.1 275.0,653.0 274.4,654.5 275.5,653.5 274.9,655.1 276.1,653.8 275.4,655.7 276.7,654.2 276.1,656.0 277.3,654.5 276.8,656.2 278.0,654.8 277.5,656.5 278.6,655.2 277.9,657.2 279.3,655.2 278.6,657.5 279.9,655.6 279.0,658.1 280.6,655.7 279.9,658.0 281.1,656.3 280.5,658.4 281.8,656.5 281.0,658.9 282.4,656.8 281.7,659.2 282.9,657.3 282.2,659.7 283.6,657.4 282.9,659.9 284.2,657.9 283.6,660.2 284.9,658.0 284.3,660.4 285.5,658.3 285.0,660.4 286.1,658.6 285.6,661.0 286.8,658.9 286.4,660.8 287.4,659.2 286.9,661.5 288.2,659.0 287.6,661.8 288.7,659.8 288.4,661.7 289.4,659.7 289.0,662.2 290.1,659.9 289.7,662.3 290.7,660.4 290.3,662.6 291.4,660.3 291.0,662.9 291.9,661.1 291.7,662.9 292.8,660.7 292.4,663.1 293.4,661.1 293.0,663.4 294.0,661.4 293.6,664.0 294.7,661.6 294.4,663.7 295.3,661.9 295.0,664.2 296.0,661.9 295.8,664.0 296.7,662.1 296.4,664.5 297.5,662.0 297.1,664.5 298.1,662.4 297.8,664.7 298.8,662.4 298.5,664.8 299.5,662.4 299.2,664.9 300.0,663.2 299.8,665.4 300.7,663.2 300.6,665.3 301.4,663.3 301.2,665.8 302.1,663.5 301.9,666.1 302.8,663.5 302.7,665.5 303.5,663.6 303.3,666.4 304.1,664.1 304.0,666.1 304.9,663.8 304.7,666.3 305.5,664.4 305.3,666.8 306.2,664.5 306.2,666.3 307.0,664.0 306.8,666.5 307.6,664.4 307.5,666.9 308.3,664.5 308.2,666.9 308.9,664.8 308.9,666.9 309.6,665.2 309.5,667.6 310.3,664.9 310.3,667.3 311.0,665.1 311.0,667.1 311.8,664.8 311.7,667.6 312.4,665.4 312.3,667.9 313.1,665.5 313.1,667.8 313.8,665.4 313.8,667.6 314.5,665.4 314.5,668.0 315.2,665.6 315.2,668.0 315.8,665.9 315.9,668.4 316.5,665.9 316.6,668.3 317.2,666.0 317.2,668.7 317.9,666.1 317.9,668.7 318.6,666.3 318.7,668.7 319.3,666.3 319.4,668.6 320.0,666.3 320.1,668.7 320.7,666.4 320.8,669.0 321.4,666.7 321.4,669.3 322.1,666.5 322.2,669.1 322.8,666.5 322.9,668.9 323.4,667.1 323.6,668.7 324.2,666.8 324.3,669.2 324.9,666.7 325.0,669.4 325.6,667.0 325.7,669.1 326.3,666.8 326.4,669.3 327.0,666.9 327.1,669.6 327.6,667.2 327.8,668.9 328.3,667.3 328.5,669.9 329.0,667.6 329.2,669.9 329.8,667.0 329.9,669.9 330.4,667.7 330.6,669.7 331.2,667.1 331.3,669.9 331.9,667.3 332.0,669.7 332.6,667.1 332.7,669.8 333.2,667.4 333.4,670.3 333.9,667.7 334.1,669.9 334.6,667.8 334.7,670.7 335.3,667.8 335.5,669.8 336.0,668.0 336.2,670.3 336.7,668.1 336.9,670.2 337.4,667.8 337.6,670.1 338.1,667.9 338.3,670.3 338.8,668.0 339.0,670.9 339.5,668.3 339.7,670.5 340.2,668.1 340.4,670.3 340.9,667.9 341.1,670.3 341.6,668.0 341.8,670.8 342.3,667.9 342.5,670.8 343.0,668.3 343.2,670.6 343.7,668.4 343.9,670.8 344.4,668.3 344.7,670.2 345.1,668.6 345.3,670.9 345.8,668.5 346.0,670.9 346.5,668.4 346.7,670.8 347.2,668.2 347.4,671.0" stroke-width="1.6"/>
<text x="332.7" y="590.3" font-size="13.3" text-anchor="start" >P2</text>
<text x="303.7" y="692.4" font-size="13.3" text-anchor="start" >Control</text>
</svg>
</body>
</html>
